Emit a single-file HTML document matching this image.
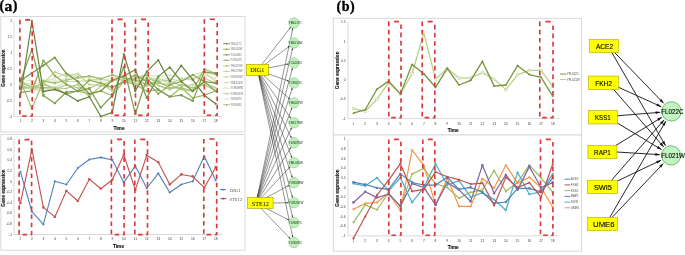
<!DOCTYPE html><html><head><meta charset="utf-8"><style>html,body{margin:0;padding:0;background:#fff;width:685px;height:255px;overflow:hidden;}svg{display:block;filter:blur(0.3px);}text{font-family:"Liberation Sans",sans-serif;}.sr{font-family:"Liberation Serif",serif;}</style></head><body>
<svg width="685" height="255" viewBox="0 0 685 255">
<rect width="685" height="255" fill="#fff"/>
<text class="sr" y="10.2" font-weight="bold" fill="#000" stroke="#000" stroke-width="0.35"><tspan x="-0.6" font-size="14">(</tspan><tspan x="4.5" y="10.9" font-size="15.5">a</tspan><tspan x="12.7" y="10.2" font-size="14">)</tspan></text>
<text class="sr" x="336.6" y="10.7" font-size="14" font-weight="bold" fill="#000" letter-spacing="0.45" stroke="#000" stroke-width="0.35">(b)</text>
<rect x="0.8" y="16.5" width="244.2" height="115.5" fill="#fff" stroke="#d9d9d9" stroke-width="1"/>
<line x1="14" y1="21.01" x2="14" y2="116.5" stroke="#bfbfbf" stroke-width="0.6"/>
<line x1="14" y1="116.5" x2="222.39" y2="116.5" stroke="#bfbfbf" stroke-width="0.6"/>
<text x="12.2" y="117.7" font-size="3.3" text-anchor="end" fill="#404040">-1</text>
<text x="12.2" y="101.79" font-size="3.3" text-anchor="end" fill="#404040">-0.5</text>
<text x="12.2" y="85.87" font-size="3.3" text-anchor="end" fill="#404040">0</text>
<text x="12.2" y="69.95" font-size="3.3" text-anchor="end" fill="#404040">0.5</text>
<text x="12.2" y="54.04" font-size="3.3" text-anchor="end" fill="#404040">1</text>
<text x="12.2" y="38.12" font-size="3.3" text-anchor="end" fill="#404040">1.5</text>
<text x="12.2" y="22.21" font-size="3.3" text-anchor="end" fill="#404040">2</text>
<text x="20.4" y="122" font-size="3.3" text-anchor="middle" fill="#404040">1</text>
<text x="31.89" y="122" font-size="3.3" text-anchor="middle" fill="#404040">2</text>
<text x="43.38" y="122" font-size="3.3" text-anchor="middle" fill="#404040">3</text>
<text x="54.87" y="122" font-size="3.3" text-anchor="middle" fill="#404040">4</text>
<text x="66.36" y="122" font-size="3.3" text-anchor="middle" fill="#404040">5</text>
<text x="77.85" y="122" font-size="3.3" text-anchor="middle" fill="#404040">6</text>
<text x="89.34" y="122" font-size="3.3" text-anchor="middle" fill="#404040">7</text>
<text x="100.83" y="122" font-size="3.3" text-anchor="middle" fill="#404040">8</text>
<text x="112.32" y="122" font-size="3.3" text-anchor="middle" fill="#404040">9</text>
<text x="123.81" y="122" font-size="3.3" text-anchor="middle" fill="#404040">10</text>
<text x="135.3" y="122" font-size="3.3" text-anchor="middle" fill="#404040">11</text>
<text x="146.79" y="122" font-size="3.3" text-anchor="middle" fill="#404040">12</text>
<text x="158.28" y="122" font-size="3.3" text-anchor="middle" fill="#404040">13</text>
<text x="169.77" y="122" font-size="3.3" text-anchor="middle" fill="#404040">14</text>
<text x="181.26" y="122" font-size="3.3" text-anchor="middle" fill="#404040">15</text>
<text x="192.75" y="122" font-size="3.3" text-anchor="middle" fill="#404040">16</text>
<text x="204.24" y="122" font-size="3.3" text-anchor="middle" fill="#404040">17</text>
<text x="215.73" y="122" font-size="3.3" text-anchor="middle" fill="#404040">18</text>
<text x="119" y="129.6" font-size="4.8" font-weight="bold" text-anchor="middle" fill="#111" stroke="#111" stroke-width="0.12">Time</text>
<text transform="translate(5.3,68) rotate(-90)" font-size="4.65" font-weight="bold" text-anchor="middle" fill="#111" stroke="#111" stroke-width="0.1">Gene expression</text>
<polyline points="20.4,87.85 31.89,87.85 43.38,87.85 54.87,87.85 66.36,93.9 77.85,91.04 89.34,93.9 100.83,91.04 112.32,95.49 123.81,81.49 135.3,84.67 146.79,91.04 158.28,89.76 169.77,96.77 181.26,87.85 192.75,98.04 204.24,95.17 215.73,91.04" fill="none" stroke="#98b464" stroke-width="1.2" stroke-linejoin="round"/>
<path d="M20.4,86.77L21.48,87.85L20.4,88.93L19.32,87.85Z" fill="#98b464" stroke="#98b464" stroke-width="0.4"/>
<path d="M31.89,86.77L32.97,87.85L31.89,88.93L30.81,87.85Z" fill="#98b464" stroke="#98b464" stroke-width="0.4"/>
<path d="M43.38,86.77L44.46,87.85L43.38,88.93L42.3,87.85Z" fill="#98b464" stroke="#98b464" stroke-width="0.4"/>
<path d="M54.87,86.77L55.95,87.85L54.87,88.93L53.79,87.85Z" fill="#98b464" stroke="#98b464" stroke-width="0.4"/>
<path d="M66.36,92.82L67.44,93.9L66.36,94.98L65.28,93.9Z" fill="#98b464" stroke="#98b464" stroke-width="0.4"/>
<path d="M77.85,89.96L78.93,91.04L77.85,92.12L76.77,91.04Z" fill="#98b464" stroke="#98b464" stroke-width="0.4"/>
<path d="M89.34,92.82L90.42,93.9L89.34,94.98L88.26,93.9Z" fill="#98b464" stroke="#98b464" stroke-width="0.4"/>
<path d="M100.83,89.96L101.91,91.04L100.83,92.12L99.75,91.04Z" fill="#98b464" stroke="#98b464" stroke-width="0.4"/>
<path d="M112.32,94.41L113.4,95.49L112.32,96.57L111.24,95.49Z" fill="#98b464" stroke="#98b464" stroke-width="0.4"/>
<path d="M123.81,80.41L124.89,81.49L123.81,82.57L122.73,81.49Z" fill="#98b464" stroke="#98b464" stroke-width="0.4"/>
<path d="M135.3,83.59L136.38,84.67L135.3,85.75L134.22,84.67Z" fill="#98b464" stroke="#98b464" stroke-width="0.4"/>
<path d="M146.79,89.96L147.87,91.04L146.79,92.12L145.71,91.04Z" fill="#98b464" stroke="#98b464" stroke-width="0.4"/>
<path d="M158.28,88.68L159.36,89.76L158.28,90.84L157.2,89.76Z" fill="#98b464" stroke="#98b464" stroke-width="0.4"/>
<path d="M169.77,95.69L170.85,96.77L169.77,97.85L168.69,96.77Z" fill="#98b464" stroke="#98b464" stroke-width="0.4"/>
<path d="M181.26,86.77L182.34,87.85L181.26,88.93L180.18,87.85Z" fill="#98b464" stroke="#98b464" stroke-width="0.4"/>
<path d="M192.75,96.96L193.83,98.04L192.75,99.12L191.67,98.04Z" fill="#98b464" stroke="#98b464" stroke-width="0.4"/>
<path d="M204.24,94.09L205.32,95.17L204.24,96.25L203.16,95.17Z" fill="#98b464" stroke="#98b464" stroke-width="0.4"/>
<path d="M215.73,89.96L216.81,91.04L215.73,92.12L214.65,91.04Z" fill="#98b464" stroke="#98b464" stroke-width="0.4"/>
<polyline points="20.4,78.3 31.89,81.49 43.38,79.9 54.87,81.49 66.36,78.3 77.85,75.12 89.34,78.3 100.83,81.49 112.32,78.3 123.81,75.12 135.3,76.71 146.79,75.12 158.28,76.71 169.77,75.12 181.26,78.3 192.75,78.3 204.24,75.12 215.73,78.3" fill="none" stroke="#dce8c6" stroke-width="1.2" stroke-linejoin="round"/>
<rect x="19.5" y="77.4" width="1.8" height="1.8" fill="#dce8c6" stroke="#dce8c6" stroke-width="0.4"/>
<rect x="30.99" y="80.59" width="1.8" height="1.8" fill="#dce8c6" stroke="#dce8c6" stroke-width="0.4"/>
<rect x="42.48" y="79" width="1.8" height="1.8" fill="#dce8c6" stroke="#dce8c6" stroke-width="0.4"/>
<rect x="53.97" y="80.59" width="1.8" height="1.8" fill="#dce8c6" stroke="#dce8c6" stroke-width="0.4"/>
<rect x="65.46" y="77.4" width="1.8" height="1.8" fill="#dce8c6" stroke="#dce8c6" stroke-width="0.4"/>
<rect x="76.95" y="74.22" width="1.8" height="1.8" fill="#dce8c6" stroke="#dce8c6" stroke-width="0.4"/>
<rect x="88.44" y="77.4" width="1.8" height="1.8" fill="#dce8c6" stroke="#dce8c6" stroke-width="0.4"/>
<rect x="99.93" y="80.59" width="1.8" height="1.8" fill="#dce8c6" stroke="#dce8c6" stroke-width="0.4"/>
<rect x="111.42" y="77.4" width="1.8" height="1.8" fill="#dce8c6" stroke="#dce8c6" stroke-width="0.4"/>
<rect x="122.91" y="74.22" width="1.8" height="1.8" fill="#dce8c6" stroke="#dce8c6" stroke-width="0.4"/>
<rect x="134.4" y="75.81" width="1.8" height="1.8" fill="#dce8c6" stroke="#dce8c6" stroke-width="0.4"/>
<rect x="145.89" y="74.22" width="1.8" height="1.8" fill="#dce8c6" stroke="#dce8c6" stroke-width="0.4"/>
<rect x="157.38" y="75.81" width="1.8" height="1.8" fill="#dce8c6" stroke="#dce8c6" stroke-width="0.4"/>
<rect x="168.87" y="74.22" width="1.8" height="1.8" fill="#dce8c6" stroke="#dce8c6" stroke-width="0.4"/>
<rect x="180.36" y="77.4" width="1.8" height="1.8" fill="#dce8c6" stroke="#dce8c6" stroke-width="0.4"/>
<rect x="191.85" y="77.4" width="1.8" height="1.8" fill="#dce8c6" stroke="#dce8c6" stroke-width="0.4"/>
<rect x="203.34" y="74.22" width="1.8" height="1.8" fill="#dce8c6" stroke="#dce8c6" stroke-width="0.4"/>
<rect x="214.83" y="77.4" width="1.8" height="1.8" fill="#dce8c6" stroke="#dce8c6" stroke-width="0.4"/>
<polyline points="20.4,84.67 31.89,89.44 43.38,83.08 54.87,89.44 66.36,84.67 77.85,87.85 89.34,88.49 100.83,83.08 112.32,91.04 123.81,79.9 135.3,83.08 146.79,86.26 158.28,83.08 169.77,84.67 181.26,89.44 192.75,91.04 204.24,83.08 215.73,87.85" fill="none" stroke="#b4cc88" stroke-width="1.2" stroke-linejoin="round"/>
<circle cx="20.4" cy="84.67" r="0.9" fill="#b4cc88" stroke="#b4cc88" stroke-width="0.4"/>
<circle cx="31.89" cy="89.44" r="0.9" fill="#b4cc88" stroke="#b4cc88" stroke-width="0.4"/>
<circle cx="43.38" cy="83.08" r="0.9" fill="#b4cc88" stroke="#b4cc88" stroke-width="0.4"/>
<circle cx="54.87" cy="89.44" r="0.9" fill="#b4cc88" stroke="#b4cc88" stroke-width="0.4"/>
<circle cx="66.36" cy="84.67" r="0.9" fill="#b4cc88" stroke="#b4cc88" stroke-width="0.4"/>
<circle cx="77.85" cy="87.85" r="0.9" fill="#b4cc88" stroke="#b4cc88" stroke-width="0.4"/>
<circle cx="89.34" cy="88.49" r="0.9" fill="#b4cc88" stroke="#b4cc88" stroke-width="0.4"/>
<circle cx="100.83" cy="83.08" r="0.9" fill="#b4cc88" stroke="#b4cc88" stroke-width="0.4"/>
<circle cx="112.32" cy="91.04" r="0.9" fill="#b4cc88" stroke="#b4cc88" stroke-width="0.4"/>
<circle cx="123.81" cy="79.9" r="0.9" fill="#b4cc88" stroke="#b4cc88" stroke-width="0.4"/>
<circle cx="135.3" cy="83.08" r="0.9" fill="#b4cc88" stroke="#b4cc88" stroke-width="0.4"/>
<circle cx="146.79" cy="86.26" r="0.9" fill="#b4cc88" stroke="#b4cc88" stroke-width="0.4"/>
<circle cx="158.28" cy="83.08" r="0.9" fill="#b4cc88" stroke="#b4cc88" stroke-width="0.4"/>
<circle cx="169.77" cy="84.67" r="0.9" fill="#b4cc88" stroke="#b4cc88" stroke-width="0.4"/>
<circle cx="181.26" cy="89.44" r="0.9" fill="#b4cc88" stroke="#b4cc88" stroke-width="0.4"/>
<circle cx="192.75" cy="91.04" r="0.9" fill="#b4cc88" stroke="#b4cc88" stroke-width="0.4"/>
<circle cx="204.24" cy="83.08" r="0.9" fill="#b4cc88" stroke="#b4cc88" stroke-width="0.4"/>
<circle cx="215.73" cy="87.85" r="0.9" fill="#b4cc88" stroke="#b4cc88" stroke-width="0.4"/>
<polyline points="20.4,81.49 31.89,84.67 43.38,81.49 54.87,78.3 66.36,73.53 77.85,78.3 89.34,76.08 100.83,78.3 112.32,74.8 123.81,81.49 135.3,78.3 146.79,76.71 158.28,79.9 169.77,78.3 181.26,81.49 192.75,75.12 204.24,71.94 215.73,75.12" fill="none" stroke="#d4e3b8" stroke-width="1.2" stroke-linejoin="round"/>
<path d="M20.4,80.41L21.48,81.49L20.4,82.57L19.32,81.49Z" fill="#d4e3b8" stroke="#d4e3b8" stroke-width="0.4"/>
<path d="M31.89,83.59L32.97,84.67L31.89,85.75L30.81,84.67Z" fill="#d4e3b8" stroke="#d4e3b8" stroke-width="0.4"/>
<path d="M43.38,80.41L44.46,81.49L43.38,82.57L42.3,81.49Z" fill="#d4e3b8" stroke="#d4e3b8" stroke-width="0.4"/>
<path d="M54.87,77.22L55.95,78.3L54.87,79.38L53.79,78.3Z" fill="#d4e3b8" stroke="#d4e3b8" stroke-width="0.4"/>
<path d="M66.36,72.45L67.44,73.53L66.36,74.61L65.28,73.53Z" fill="#d4e3b8" stroke="#d4e3b8" stroke-width="0.4"/>
<path d="M77.85,77.22L78.93,78.3L77.85,79.38L76.77,78.3Z" fill="#d4e3b8" stroke="#d4e3b8" stroke-width="0.4"/>
<path d="M89.34,75L90.42,76.08L89.34,77.16L88.26,76.08Z" fill="#d4e3b8" stroke="#d4e3b8" stroke-width="0.4"/>
<path d="M100.83,77.22L101.91,78.3L100.83,79.38L99.75,78.3Z" fill="#d4e3b8" stroke="#d4e3b8" stroke-width="0.4"/>
<path d="M112.32,73.72L113.4,74.8L112.32,75.88L111.24,74.8Z" fill="#d4e3b8" stroke="#d4e3b8" stroke-width="0.4"/>
<path d="M123.81,80.41L124.89,81.49L123.81,82.57L122.73,81.49Z" fill="#d4e3b8" stroke="#d4e3b8" stroke-width="0.4"/>
<path d="M135.3,77.22L136.38,78.3L135.3,79.38L134.22,78.3Z" fill="#d4e3b8" stroke="#d4e3b8" stroke-width="0.4"/>
<path d="M146.79,75.63L147.87,76.71L146.79,77.79L145.71,76.71Z" fill="#d4e3b8" stroke="#d4e3b8" stroke-width="0.4"/>
<path d="M158.28,78.82L159.36,79.9L158.28,80.98L157.2,79.9Z" fill="#d4e3b8" stroke="#d4e3b8" stroke-width="0.4"/>
<path d="M169.77,77.22L170.85,78.3L169.77,79.38L168.69,78.3Z" fill="#d4e3b8" stroke="#d4e3b8" stroke-width="0.4"/>
<path d="M181.26,80.41L182.34,81.49L181.26,82.57L180.18,81.49Z" fill="#d4e3b8" stroke="#d4e3b8" stroke-width="0.4"/>
<path d="M192.75,74.04L193.83,75.12L192.75,76.2L191.67,75.12Z" fill="#d4e3b8" stroke="#d4e3b8" stroke-width="0.4"/>
<path d="M204.24,70.86L205.32,71.94L204.24,73.02L203.16,71.94Z" fill="#d4e3b8" stroke="#d4e3b8" stroke-width="0.4"/>
<path d="M215.73,74.04L216.81,75.12L215.73,76.2L214.65,75.12Z" fill="#d4e3b8" stroke="#d4e3b8" stroke-width="0.4"/>
<polyline points="20.4,79.9 31.89,89.44 43.38,90.72 54.87,87.85 66.36,81.49 77.85,81.49 89.34,80.21 100.83,78.94 112.32,81.49 123.81,76.71 135.3,81.49 146.79,79.9 158.28,78.3 169.77,83.08 181.26,78.94 192.75,79.9 204.24,71.94 215.73,81.49" fill="none" stroke="#c8dba6" stroke-width="1.2" stroke-linejoin="round"/>
<rect x="19.5" y="79" width="1.8" height="1.8" fill="#c8dba6" stroke="#c8dba6" stroke-width="0.4"/>
<rect x="30.99" y="88.54" width="1.8" height="1.8" fill="#c8dba6" stroke="#c8dba6" stroke-width="0.4"/>
<rect x="42.48" y="89.82" width="1.8" height="1.8" fill="#c8dba6" stroke="#c8dba6" stroke-width="0.4"/>
<rect x="53.97" y="86.95" width="1.8" height="1.8" fill="#c8dba6" stroke="#c8dba6" stroke-width="0.4"/>
<rect x="65.46" y="80.59" width="1.8" height="1.8" fill="#c8dba6" stroke="#c8dba6" stroke-width="0.4"/>
<rect x="76.95" y="80.59" width="1.8" height="1.8" fill="#c8dba6" stroke="#c8dba6" stroke-width="0.4"/>
<rect x="88.44" y="79.31" width="1.8" height="1.8" fill="#c8dba6" stroke="#c8dba6" stroke-width="0.4"/>
<rect x="99.93" y="78.04" width="1.8" height="1.8" fill="#c8dba6" stroke="#c8dba6" stroke-width="0.4"/>
<rect x="111.42" y="80.59" width="1.8" height="1.8" fill="#c8dba6" stroke="#c8dba6" stroke-width="0.4"/>
<rect x="122.91" y="75.81" width="1.8" height="1.8" fill="#c8dba6" stroke="#c8dba6" stroke-width="0.4"/>
<rect x="134.4" y="80.59" width="1.8" height="1.8" fill="#c8dba6" stroke="#c8dba6" stroke-width="0.4"/>
<rect x="145.89" y="79" width="1.8" height="1.8" fill="#c8dba6" stroke="#c8dba6" stroke-width="0.4"/>
<rect x="157.38" y="77.4" width="1.8" height="1.8" fill="#c8dba6" stroke="#c8dba6" stroke-width="0.4"/>
<rect x="168.87" y="82.18" width="1.8" height="1.8" fill="#c8dba6" stroke="#c8dba6" stroke-width="0.4"/>
<rect x="180.36" y="78.04" width="1.8" height="1.8" fill="#c8dba6" stroke="#c8dba6" stroke-width="0.4"/>
<rect x="191.85" y="79" width="1.8" height="1.8" fill="#c8dba6" stroke="#c8dba6" stroke-width="0.4"/>
<rect x="203.34" y="71.04" width="1.8" height="1.8" fill="#c8dba6" stroke="#c8dba6" stroke-width="0.4"/>
<rect x="214.83" y="80.59" width="1.8" height="1.8" fill="#c8dba6" stroke="#c8dba6" stroke-width="0.4"/>
<polyline points="20.4,81.49 31.89,87.85 43.38,83.08 54.87,71.94 66.36,76.08 77.85,73.53 89.34,84.67 100.83,85.62 112.32,80.21 123.81,79.9 135.3,84.67 146.79,78.3 158.28,81.49 169.77,80.21 181.26,86.26 192.75,84.67 204.24,78.3 215.73,83.08" fill="none" stroke="#bcd293" stroke-width="1.2" stroke-linejoin="round"/>
<circle cx="20.4" cy="81.49" r="0.9" fill="#bcd293" stroke="#bcd293" stroke-width="0.4"/>
<circle cx="31.89" cy="87.85" r="0.9" fill="#bcd293" stroke="#bcd293" stroke-width="0.4"/>
<circle cx="43.38" cy="83.08" r="0.9" fill="#bcd293" stroke="#bcd293" stroke-width="0.4"/>
<circle cx="54.87" cy="71.94" r="0.9" fill="#bcd293" stroke="#bcd293" stroke-width="0.4"/>
<circle cx="66.36" cy="76.08" r="0.9" fill="#bcd293" stroke="#bcd293" stroke-width="0.4"/>
<circle cx="77.85" cy="73.53" r="0.9" fill="#bcd293" stroke="#bcd293" stroke-width="0.4"/>
<circle cx="89.34" cy="84.67" r="0.9" fill="#bcd293" stroke="#bcd293" stroke-width="0.4"/>
<circle cx="100.83" cy="85.62" r="0.9" fill="#bcd293" stroke="#bcd293" stroke-width="0.4"/>
<circle cx="112.32" cy="80.21" r="0.9" fill="#bcd293" stroke="#bcd293" stroke-width="0.4"/>
<circle cx="123.81" cy="79.9" r="0.9" fill="#bcd293" stroke="#bcd293" stroke-width="0.4"/>
<circle cx="135.3" cy="84.67" r="0.9" fill="#bcd293" stroke="#bcd293" stroke-width="0.4"/>
<circle cx="146.79" cy="78.3" r="0.9" fill="#bcd293" stroke="#bcd293" stroke-width="0.4"/>
<circle cx="158.28" cy="81.49" r="0.9" fill="#bcd293" stroke="#bcd293" stroke-width="0.4"/>
<circle cx="169.77" cy="80.21" r="0.9" fill="#bcd293" stroke="#bcd293" stroke-width="0.4"/>
<circle cx="181.26" cy="86.26" r="0.9" fill="#bcd293" stroke="#bcd293" stroke-width="0.4"/>
<circle cx="192.75" cy="84.67" r="0.9" fill="#bcd293" stroke="#bcd293" stroke-width="0.4"/>
<circle cx="204.24" cy="78.3" r="0.9" fill="#bcd293" stroke="#bcd293" stroke-width="0.4"/>
<circle cx="215.73" cy="83.08" r="0.9" fill="#bcd293" stroke="#bcd293" stroke-width="0.4"/>
<polyline points="20.4,83.08 31.89,86.58 43.38,84.67 54.87,87.85 66.36,88.49 77.85,84.35 89.34,96.77 100.83,85.62 112.32,87.22 123.81,82.12 135.3,78.3 146.79,75.12 158.28,85.62 169.77,89.44 181.26,84.67 192.75,87.85 204.24,84.67 215.73,91.04" fill="none" stroke="#afc87e" stroke-width="1.2" stroke-linejoin="round"/>
<path d="M20.4,82L21.48,83.08L20.4,84.16L19.32,83.08Z" fill="#afc87e" stroke="#afc87e" stroke-width="0.4"/>
<path d="M31.89,85.5L32.97,86.58L31.89,87.66L30.81,86.58Z" fill="#afc87e" stroke="#afc87e" stroke-width="0.4"/>
<path d="M43.38,83.59L44.46,84.67L43.38,85.75L42.3,84.67Z" fill="#afc87e" stroke="#afc87e" stroke-width="0.4"/>
<path d="M54.87,86.77L55.95,87.85L54.87,88.93L53.79,87.85Z" fill="#afc87e" stroke="#afc87e" stroke-width="0.4"/>
<path d="M66.36,87.41L67.44,88.49L66.36,89.57L65.28,88.49Z" fill="#afc87e" stroke="#afc87e" stroke-width="0.4"/>
<path d="M77.85,83.27L78.93,84.35L77.85,85.43L76.77,84.35Z" fill="#afc87e" stroke="#afc87e" stroke-width="0.4"/>
<path d="M89.34,95.69L90.42,96.77L89.34,97.85L88.26,96.77Z" fill="#afc87e" stroke="#afc87e" stroke-width="0.4"/>
<path d="M100.83,84.54L101.91,85.62L100.83,86.7L99.75,85.62Z" fill="#afc87e" stroke="#afc87e" stroke-width="0.4"/>
<path d="M112.32,86.14L113.4,87.22L112.32,88.3L111.24,87.22Z" fill="#afc87e" stroke="#afc87e" stroke-width="0.4"/>
<path d="M123.81,81.04L124.89,82.12L123.81,83.2L122.73,82.12Z" fill="#afc87e" stroke="#afc87e" stroke-width="0.4"/>
<path d="M135.3,77.22L136.38,78.3L135.3,79.38L134.22,78.3Z" fill="#afc87e" stroke="#afc87e" stroke-width="0.4"/>
<path d="M146.79,74.04L147.87,75.12L146.79,76.2L145.71,75.12Z" fill="#afc87e" stroke="#afc87e" stroke-width="0.4"/>
<path d="M158.28,84.54L159.36,85.62L158.28,86.7L157.2,85.62Z" fill="#afc87e" stroke="#afc87e" stroke-width="0.4"/>
<path d="M169.77,88.36L170.85,89.44L169.77,90.52L168.69,89.44Z" fill="#afc87e" stroke="#afc87e" stroke-width="0.4"/>
<path d="M181.26,83.59L182.34,84.67L181.26,85.75L180.18,84.67Z" fill="#afc87e" stroke="#afc87e" stroke-width="0.4"/>
<path d="M192.75,86.77L193.83,87.85L192.75,88.93L191.67,87.85Z" fill="#afc87e" stroke="#afc87e" stroke-width="0.4"/>
<path d="M204.24,83.59L205.32,84.67L204.24,85.75L203.16,84.67Z" fill="#afc87e" stroke="#afc87e" stroke-width="0.4"/>
<path d="M215.73,89.96L216.81,91.04L215.73,92.12L214.65,91.04Z" fill="#afc87e" stroke="#afc87e" stroke-width="0.4"/>
<polyline points="20.4,81.17 31.89,108.54 43.38,81.17 54.87,83.08 66.36,80.21 77.85,77.35 89.34,76.08 100.83,78.94 112.32,74.8 123.81,78.3 135.3,79.9 146.79,84.67 158.28,81.49 169.77,87.85 181.26,87.85 192.75,91.04 204.24,69.07 215.73,73.53" fill="none" stroke="#a2bd6c" stroke-width="1.2" stroke-linejoin="round"/>
<rect x="19.5" y="80.27" width="1.8" height="1.8" fill="#a2bd6c" stroke="#a2bd6c" stroke-width="0.4"/>
<rect x="30.99" y="107.64" width="1.8" height="1.8" fill="#a2bd6c" stroke="#a2bd6c" stroke-width="0.4"/>
<rect x="42.48" y="80.27" width="1.8" height="1.8" fill="#a2bd6c" stroke="#a2bd6c" stroke-width="0.4"/>
<rect x="53.97" y="82.18" width="1.8" height="1.8" fill="#a2bd6c" stroke="#a2bd6c" stroke-width="0.4"/>
<rect x="65.46" y="79.31" width="1.8" height="1.8" fill="#a2bd6c" stroke="#a2bd6c" stroke-width="0.4"/>
<rect x="76.95" y="76.45" width="1.8" height="1.8" fill="#a2bd6c" stroke="#a2bd6c" stroke-width="0.4"/>
<rect x="88.44" y="75.18" width="1.8" height="1.8" fill="#a2bd6c" stroke="#a2bd6c" stroke-width="0.4"/>
<rect x="99.93" y="78.04" width="1.8" height="1.8" fill="#a2bd6c" stroke="#a2bd6c" stroke-width="0.4"/>
<rect x="111.42" y="73.9" width="1.8" height="1.8" fill="#a2bd6c" stroke="#a2bd6c" stroke-width="0.4"/>
<rect x="122.91" y="77.4" width="1.8" height="1.8" fill="#a2bd6c" stroke="#a2bd6c" stroke-width="0.4"/>
<rect x="134.4" y="79" width="1.8" height="1.8" fill="#a2bd6c" stroke="#a2bd6c" stroke-width="0.4"/>
<rect x="145.89" y="83.77" width="1.8" height="1.8" fill="#a2bd6c" stroke="#a2bd6c" stroke-width="0.4"/>
<rect x="157.38" y="80.59" width="1.8" height="1.8" fill="#a2bd6c" stroke="#a2bd6c" stroke-width="0.4"/>
<rect x="168.87" y="86.95" width="1.8" height="1.8" fill="#a2bd6c" stroke="#a2bd6c" stroke-width="0.4"/>
<rect x="180.36" y="86.95" width="1.8" height="1.8" fill="#a2bd6c" stroke="#a2bd6c" stroke-width="0.4"/>
<rect x="191.85" y="90.14" width="1.8" height="1.8" fill="#a2bd6c" stroke="#a2bd6c" stroke-width="0.4"/>
<rect x="203.34" y="68.17" width="1.8" height="1.8" fill="#a2bd6c" stroke="#a2bd6c" stroke-width="0.4"/>
<rect x="214.83" y="72.63" width="1.8" height="1.8" fill="#a2bd6c" stroke="#a2bd6c" stroke-width="0.4"/>
<polyline points="20.4,92.63 31.89,90.72 43.38,60.48 54.87,75.76 66.36,84.35 77.85,91.04 89.34,80.21 100.83,83.08 112.32,87.22 123.81,81.49 135.3,75.12 146.79,81.49 158.28,93.9 169.77,84.67 181.26,81.49 192.75,74.8 204.24,81.49 215.73,91.04" fill="none" stroke="#8aa652" stroke-width="1.2" stroke-linejoin="round"/>
<circle cx="20.4" cy="92.63" r="0.9" fill="#8aa652" stroke="#8aa652" stroke-width="0.4"/>
<circle cx="31.89" cy="90.72" r="0.9" fill="#8aa652" stroke="#8aa652" stroke-width="0.4"/>
<circle cx="43.38" cy="60.48" r="0.9" fill="#8aa652" stroke="#8aa652" stroke-width="0.4"/>
<circle cx="54.87" cy="75.76" r="0.9" fill="#8aa652" stroke="#8aa652" stroke-width="0.4"/>
<circle cx="66.36" cy="84.35" r="0.9" fill="#8aa652" stroke="#8aa652" stroke-width="0.4"/>
<circle cx="77.85" cy="91.04" r="0.9" fill="#8aa652" stroke="#8aa652" stroke-width="0.4"/>
<circle cx="89.34" cy="80.21" r="0.9" fill="#8aa652" stroke="#8aa652" stroke-width="0.4"/>
<circle cx="100.83" cy="83.08" r="0.9" fill="#8aa652" stroke="#8aa652" stroke-width="0.4"/>
<circle cx="112.32" cy="87.22" r="0.9" fill="#8aa652" stroke="#8aa652" stroke-width="0.4"/>
<circle cx="123.81" cy="81.49" r="0.9" fill="#8aa652" stroke="#8aa652" stroke-width="0.4"/>
<circle cx="135.3" cy="75.12" r="0.9" fill="#8aa652" stroke="#8aa652" stroke-width="0.4"/>
<circle cx="146.79" cy="81.49" r="0.9" fill="#8aa652" stroke="#8aa652" stroke-width="0.4"/>
<circle cx="158.28" cy="93.9" r="0.9" fill="#8aa652" stroke="#8aa652" stroke-width="0.4"/>
<circle cx="169.77" cy="84.67" r="0.9" fill="#8aa652" stroke="#8aa652" stroke-width="0.4"/>
<circle cx="181.26" cy="81.49" r="0.9" fill="#8aa652" stroke="#8aa652" stroke-width="0.4"/>
<circle cx="192.75" cy="74.8" r="0.9" fill="#8aa652" stroke="#8aa652" stroke-width="0.4"/>
<circle cx="204.24" cy="81.49" r="0.9" fill="#8aa652" stroke="#8aa652" stroke-width="0.4"/>
<circle cx="215.73" cy="91.04" r="0.9" fill="#8aa652" stroke="#8aa652" stroke-width="0.4"/>
<polyline points="20.4,80.85 31.89,72.89 43.38,65.57 54.87,57.61 66.36,73.53 77.85,81.49 89.34,93.9 100.83,91.04 112.32,80.21 123.81,76.08 135.3,69.71 146.79,98.04 158.28,76.39 169.77,67.16 181.26,81.49 192.75,91.04 204.24,81.49 215.73,83.08" fill="none" stroke="#72903e" stroke-width="1.2" stroke-linejoin="round"/>
<path d="M20.4,79.77L21.48,80.85L20.4,81.93L19.32,80.85Z" fill="#72903e" stroke="#72903e" stroke-width="0.4"/>
<path d="M31.89,71.81L32.97,72.89L31.89,73.97L30.81,72.89Z" fill="#72903e" stroke="#72903e" stroke-width="0.4"/>
<path d="M43.38,64.49L44.46,65.57L43.38,66.65L42.3,65.57Z" fill="#72903e" stroke="#72903e" stroke-width="0.4"/>
<path d="M54.87,56.53L55.95,57.61L54.87,58.69L53.79,57.61Z" fill="#72903e" stroke="#72903e" stroke-width="0.4"/>
<path d="M66.36,72.45L67.44,73.53L66.36,74.61L65.28,73.53Z" fill="#72903e" stroke="#72903e" stroke-width="0.4"/>
<path d="M77.85,80.41L78.93,81.49L77.85,82.57L76.77,81.49Z" fill="#72903e" stroke="#72903e" stroke-width="0.4"/>
<path d="M89.34,92.82L90.42,93.9L89.34,94.98L88.26,93.9Z" fill="#72903e" stroke="#72903e" stroke-width="0.4"/>
<path d="M100.83,89.96L101.91,91.04L100.83,92.12L99.75,91.04Z" fill="#72903e" stroke="#72903e" stroke-width="0.4"/>
<path d="M112.32,79.13L113.4,80.21L112.32,81.29L111.24,80.21Z" fill="#72903e" stroke="#72903e" stroke-width="0.4"/>
<path d="M123.81,75L124.89,76.08L123.81,77.16L122.73,76.08Z" fill="#72903e" stroke="#72903e" stroke-width="0.4"/>
<path d="M135.3,68.63L136.38,69.71L135.3,70.79L134.22,69.71Z" fill="#72903e" stroke="#72903e" stroke-width="0.4"/>
<path d="M146.79,96.96L147.87,98.04L146.79,99.12L145.71,98.04Z" fill="#72903e" stroke="#72903e" stroke-width="0.4"/>
<path d="M158.28,75.31L159.36,76.39L158.28,77.47L157.2,76.39Z" fill="#72903e" stroke="#72903e" stroke-width="0.4"/>
<path d="M169.77,66.08L170.85,67.16L169.77,68.24L168.69,67.16Z" fill="#72903e" stroke="#72903e" stroke-width="0.4"/>
<path d="M181.26,80.41L182.34,81.49L181.26,82.57L180.18,81.49Z" fill="#72903e" stroke="#72903e" stroke-width="0.4"/>
<path d="M192.75,89.96L193.83,91.04L192.75,92.12L191.67,91.04Z" fill="#72903e" stroke="#72903e" stroke-width="0.4"/>
<path d="M204.24,80.41L205.32,81.49L204.24,82.57L203.16,81.49Z" fill="#72903e" stroke="#72903e" stroke-width="0.4"/>
<path d="M215.73,82L216.81,83.08L215.73,84.16L214.65,83.08Z" fill="#72903e" stroke="#72903e" stroke-width="0.4"/>
<polyline points="20.4,81.17 31.89,49.66 43.38,95.49 54.87,103.13 66.36,91.99 77.85,91.04 89.34,88.49 100.83,107.59 112.32,95.49 123.81,67.16 135.3,113.95 146.79,78.3 158.28,89.76 169.77,96.77 181.26,95.17 192.75,100.9 204.24,71.94 215.73,73.53" fill="none" stroke="#7f9a4a" stroke-width="1.2" stroke-linejoin="round"/>
<rect x="19.5" y="80.27" width="1.8" height="1.8" fill="#7f9a4a" stroke="#7f9a4a" stroke-width="0.4"/>
<rect x="30.99" y="48.76" width="1.8" height="1.8" fill="#7f9a4a" stroke="#7f9a4a" stroke-width="0.4"/>
<rect x="42.48" y="94.59" width="1.8" height="1.8" fill="#7f9a4a" stroke="#7f9a4a" stroke-width="0.4"/>
<rect x="53.97" y="102.23" width="1.8" height="1.8" fill="#7f9a4a" stroke="#7f9a4a" stroke-width="0.4"/>
<rect x="65.46" y="91.09" width="1.8" height="1.8" fill="#7f9a4a" stroke="#7f9a4a" stroke-width="0.4"/>
<rect x="76.95" y="90.14" width="1.8" height="1.8" fill="#7f9a4a" stroke="#7f9a4a" stroke-width="0.4"/>
<rect x="88.44" y="87.59" width="1.8" height="1.8" fill="#7f9a4a" stroke="#7f9a4a" stroke-width="0.4"/>
<rect x="99.93" y="106.69" width="1.8" height="1.8" fill="#7f9a4a" stroke="#7f9a4a" stroke-width="0.4"/>
<rect x="111.42" y="94.59" width="1.8" height="1.8" fill="#7f9a4a" stroke="#7f9a4a" stroke-width="0.4"/>
<rect x="122.91" y="66.26" width="1.8" height="1.8" fill="#7f9a4a" stroke="#7f9a4a" stroke-width="0.4"/>
<rect x="134.4" y="113.05" width="1.8" height="1.8" fill="#7f9a4a" stroke="#7f9a4a" stroke-width="0.4"/>
<rect x="145.89" y="77.4" width="1.8" height="1.8" fill="#7f9a4a" stroke="#7f9a4a" stroke-width="0.4"/>
<rect x="157.38" y="88.86" width="1.8" height="1.8" fill="#7f9a4a" stroke="#7f9a4a" stroke-width="0.4"/>
<rect x="168.87" y="95.87" width="1.8" height="1.8" fill="#7f9a4a" stroke="#7f9a4a" stroke-width="0.4"/>
<rect x="180.36" y="94.27" width="1.8" height="1.8" fill="#7f9a4a" stroke="#7f9a4a" stroke-width="0.4"/>
<rect x="191.85" y="100" width="1.8" height="1.8" fill="#7f9a4a" stroke="#7f9a4a" stroke-width="0.4"/>
<rect x="203.34" y="71.04" width="1.8" height="1.8" fill="#7f9a4a" stroke="#7f9a4a" stroke-width="0.4"/>
<rect x="214.83" y="72.63" width="1.8" height="1.8" fill="#7f9a4a" stroke="#7f9a4a" stroke-width="0.4"/>
<polyline points="20.4,96.13 31.89,21.01 43.38,91.67 54.87,89.44 66.36,93.9 77.85,100.9 89.34,96.77 100.83,116.5 112.32,112.36 123.81,54.11 135.3,91.04 146.79,71.62 158.28,60.16 169.77,81.49 181.26,65.57 192.75,79.58 204.24,95.17 215.73,103.77" fill="none" stroke="#66803a" stroke-width="1.2" stroke-linejoin="round"/>
<circle cx="20.4" cy="96.13" r="0.9" fill="#66803a" stroke="#66803a" stroke-width="0.4"/>
<circle cx="31.89" cy="21.01" r="0.9" fill="#66803a" stroke="#66803a" stroke-width="0.4"/>
<circle cx="43.38" cy="91.67" r="0.9" fill="#66803a" stroke="#66803a" stroke-width="0.4"/>
<circle cx="54.87" cy="89.44" r="0.9" fill="#66803a" stroke="#66803a" stroke-width="0.4"/>
<circle cx="66.36" cy="93.9" r="0.9" fill="#66803a" stroke="#66803a" stroke-width="0.4"/>
<circle cx="77.85" cy="100.9" r="0.9" fill="#66803a" stroke="#66803a" stroke-width="0.4"/>
<circle cx="89.34" cy="96.77" r="0.9" fill="#66803a" stroke="#66803a" stroke-width="0.4"/>
<circle cx="100.83" cy="116.5" r="0.9" fill="#66803a" stroke="#66803a" stroke-width="0.4"/>
<circle cx="112.32" cy="112.36" r="0.9" fill="#66803a" stroke="#66803a" stroke-width="0.4"/>
<circle cx="123.81" cy="54.11" r="0.9" fill="#66803a" stroke="#66803a" stroke-width="0.4"/>
<circle cx="135.3" cy="91.04" r="0.9" fill="#66803a" stroke="#66803a" stroke-width="0.4"/>
<circle cx="146.79" cy="71.62" r="0.9" fill="#66803a" stroke="#66803a" stroke-width="0.4"/>
<circle cx="158.28" cy="60.16" r="0.9" fill="#66803a" stroke="#66803a" stroke-width="0.4"/>
<circle cx="169.77" cy="81.49" r="0.9" fill="#66803a" stroke="#66803a" stroke-width="0.4"/>
<circle cx="181.26" cy="65.57" r="0.9" fill="#66803a" stroke="#66803a" stroke-width="0.4"/>
<circle cx="192.75" cy="79.58" r="0.9" fill="#66803a" stroke="#66803a" stroke-width="0.4"/>
<circle cx="204.24" cy="95.17" r="0.9" fill="#66803a" stroke="#66803a" stroke-width="0.4"/>
<circle cx="215.73" cy="103.77" r="0.9" fill="#66803a" stroke="#66803a" stroke-width="0.4"/>
<line x1="223.2" y1="43.7" x2="229.9" y2="43.7" stroke="#66803a" stroke-width="0.8"/>
<rect x="225.9" y="43.05" width="1.3" height="1.3" fill="#66803a"/>
<text x="230.4" y="44.7" font-size="2.65" fill="#6a6a6a">YBL017C</text>
<line x1="223.2" y1="49.25" x2="229.9" y2="49.25" stroke="#7f9a4a" stroke-width="0.8"/>
<rect x="225.9" y="48.6" width="1.3" height="1.3" fill="#7f9a4a"/>
<text x="230.4" y="50.25" font-size="2.65" fill="#6a6a6a">YBL014W</text>
<line x1="223.2" y1="54.8" x2="229.9" y2="54.8" stroke="#72903e" stroke-width="0.8"/>
<rect x="225.9" y="54.15" width="1.3" height="1.3" fill="#72903e"/>
<text x="230.4" y="55.8" font-size="2.65" fill="#6a6a6a">YCL008C</text>
<line x1="223.2" y1="60.35" x2="229.9" y2="60.35" stroke="#8aa652" stroke-width="0.8"/>
<rect x="225.9" y="59.7" width="1.3" height="1.3" fill="#8aa652"/>
<text x="230.4" y="61.35" font-size="2.65" fill="#6a6a6a">YCR017C</text>
<line x1="223.2" y1="65.9" x2="229.9" y2="65.9" stroke="#a2bd6c" stroke-width="0.8"/>
<rect x="225.9" y="65.25" width="1.3" height="1.3" fill="#a2bd6c"/>
<text x="230.4" y="66.9" font-size="2.65" fill="#6a6a6a">YHL067W</text>
<line x1="223.2" y1="71.45" x2="229.9" y2="71.45" stroke="#afc87e" stroke-width="0.8"/>
<rect x="225.9" y="70.8" width="1.3" height="1.3" fill="#afc87e"/>
<text x="230.4" y="72.45" font-size="2.65" fill="#6a6a6a">YHL279W</text>
<line x1="223.2" y1="77" x2="229.9" y2="77" stroke="#bcd293" stroke-width="0.8"/>
<rect x="225.9" y="76.35" width="1.3" height="1.3" fill="#bcd293"/>
<text x="230.4" y="78" font-size="2.65" fill="#6a6a6a">YLR095W</text>
<line x1="223.2" y1="82.55" x2="229.9" y2="82.55" stroke="#c8dba6" stroke-width="0.8"/>
<rect x="225.9" y="81.9" width="1.3" height="1.3" fill="#c8dba6"/>
<text x="230.4" y="83.55" font-size="2.65" fill="#6a6a6a">YML055W</text>
<line x1="223.2" y1="88.1" x2="229.9" y2="88.1" stroke="#d4e3b8" stroke-width="0.8"/>
<rect x="225.9" y="87.45" width="1.3" height="1.3" fill="#d4e3b8"/>
<text x="230.4" y="89.1" font-size="2.65" fill="#6a6a6a">YOR088W</text>
<line x1="223.2" y1="93.65" x2="229.9" y2="93.65" stroke="#b4cc88" stroke-width="0.8"/>
<rect x="225.9" y="93" width="1.3" height="1.3" fill="#b4cc88"/>
<text x="230.4" y="94.65" font-size="2.65" fill="#6a6a6a">YOR261W</text>
<line x1="223.2" y1="99.2" x2="229.9" y2="99.2" stroke="#dce8c6" stroke-width="0.8"/>
<rect x="225.9" y="98.55" width="1.3" height="1.3" fill="#dce8c6"/>
<text x="230.4" y="100.2" font-size="2.65" fill="#6a6a6a">YLR087C</text>
<line x1="223.2" y1="104.75" x2="229.9" y2="104.75" stroke="#98b464" stroke-width="0.8"/>
<rect x="225.9" y="104.1" width="1.3" height="1.3" fill="#98b464"/>
<text x="230.4" y="105.75" font-size="2.65" fill="#6a6a6a">YLR069C</text>
<path d="M19.9,19.8V116H32.2V19.8" fill="none" stroke="#d63a3a" stroke-width="1.65" stroke-dasharray="4.6,3.6" stroke-linejoin="round"/>
<path d="M32.2,19.8H19.9" fill="none" stroke="#d63a3a" stroke-width="1.65" stroke-dasharray="0,2.09,4.92,100"/>
<path d="M112,19.4V115.3H124.8V19.4" fill="none" stroke="#d63a3a" stroke-width="1.65" stroke-dasharray="4.6,3.6" stroke-linejoin="round"/>
<path d="M124.8,19.4H112" fill="none" stroke="#d63a3a" stroke-width="1.65" stroke-dasharray="0,2.18,5.12,100"/>
<path d="M135.5,19.4V115.3H148.2V19.4" fill="none" stroke="#d63a3a" stroke-width="1.65" stroke-dasharray="4.6,3.6" stroke-linejoin="round"/>
<path d="M148.2,19.4H135.5" fill="none" stroke="#d63a3a" stroke-width="1.65" stroke-dasharray="0,2.16,5.08,100"/>
<path d="M204.3,19.2V115.2H217.2V19.2" fill="none" stroke="#d63a3a" stroke-width="1.65" stroke-dasharray="4.6,3.6" stroke-linejoin="round"/>
<path d="M217.2,19.2H204.3" fill="none" stroke="#d63a3a" stroke-width="1.65" stroke-dasharray="0,2.19,5.16,100"/>
<rect x="0.8" y="134.6" width="244.2" height="115.6" fill="#fff" stroke="#d9d9d9" stroke-width="1"/>
<line x1="14" y1="138.79" x2="14" y2="234.5" stroke="#bfbfbf" stroke-width="0.6"/>
<line x1="14" y1="234.5" x2="222.39" y2="234.5" stroke="#bfbfbf" stroke-width="0.6"/>
<text x="12.2" y="235.7" font-size="3.3" text-anchor="end" fill="#404040">-1</text>
<text x="12.2" y="225.07" font-size="3.3" text-anchor="end" fill="#404040">-0.8</text>
<text x="12.2" y="214.43" font-size="3.3" text-anchor="end" fill="#404040">-0.6</text>
<text x="12.2" y="203.8" font-size="3.3" text-anchor="end" fill="#404040">-0.4</text>
<text x="12.2" y="193.16" font-size="3.3" text-anchor="end" fill="#404040">-0.2</text>
<text x="12.2" y="182.53" font-size="3.3" text-anchor="end" fill="#404040">0</text>
<text x="12.2" y="171.9" font-size="3.3" text-anchor="end" fill="#404040">0.2</text>
<text x="12.2" y="161.26" font-size="3.3" text-anchor="end" fill="#404040">0.4</text>
<text x="12.2" y="150.63" font-size="3.3" text-anchor="end" fill="#404040">0.6</text>
<text x="12.2" y="139.99" font-size="3.3" text-anchor="end" fill="#404040">0.8</text>
<text x="20.4" y="240.3" font-size="3.3" text-anchor="middle" fill="#404040">1</text>
<text x="31.89" y="240.3" font-size="3.3" text-anchor="middle" fill="#404040">2</text>
<text x="43.38" y="240.3" font-size="3.3" text-anchor="middle" fill="#404040">3</text>
<text x="54.87" y="240.3" font-size="3.3" text-anchor="middle" fill="#404040">4</text>
<text x="66.36" y="240.3" font-size="3.3" text-anchor="middle" fill="#404040">5</text>
<text x="77.85" y="240.3" font-size="3.3" text-anchor="middle" fill="#404040">6</text>
<text x="89.34" y="240.3" font-size="3.3" text-anchor="middle" fill="#404040">7</text>
<text x="100.83" y="240.3" font-size="3.3" text-anchor="middle" fill="#404040">8</text>
<text x="112.32" y="240.3" font-size="3.3" text-anchor="middle" fill="#404040">9</text>
<text x="123.81" y="240.3" font-size="3.3" text-anchor="middle" fill="#404040">10</text>
<text x="135.3" y="240.3" font-size="3.3" text-anchor="middle" fill="#404040">11</text>
<text x="146.79" y="240.3" font-size="3.3" text-anchor="middle" fill="#404040">12</text>
<text x="158.28" y="240.3" font-size="3.3" text-anchor="middle" fill="#404040">13</text>
<text x="169.77" y="240.3" font-size="3.3" text-anchor="middle" fill="#404040">14</text>
<text x="181.26" y="240.3" font-size="3.3" text-anchor="middle" fill="#404040">15</text>
<text x="192.75" y="240.3" font-size="3.3" text-anchor="middle" fill="#404040">16</text>
<text x="204.24" y="240.3" font-size="3.3" text-anchor="middle" fill="#404040">17</text>
<text x="215.73" y="240.3" font-size="3.3" text-anchor="middle" fill="#404040">18</text>
<text x="118.5" y="248" font-size="4.8" font-weight="bold" text-anchor="middle" fill="#111" stroke="#111" stroke-width="0.12">Time</text>
<text transform="translate(5.3,188) rotate(-90)" font-size="4.65" font-weight="bold" text-anchor="middle" fill="#111" stroke="#111" stroke-width="0.1">Gene expression</text>
<polyline points="20.4,171.76 31.89,211.64 43.38,224.4 54.87,181.33 66.36,184.52 77.85,168.04 89.34,159.53 100.83,157.4 112.32,160.06 123.81,182.39 135.3,165.91 146.79,188.24 158.28,173.35 169.77,192.5 181.26,184.52 192.75,181.33 204.24,156.34 215.73,180.27" fill="none" stroke="#4f81bd" stroke-width="1.1" stroke-linejoin="round"/>
<path d="M20.4,170.68L21.48,171.76L20.4,172.84L19.32,171.76Z" fill="#4f81bd" stroke="#4f81bd" stroke-width="0.4"/>
<path d="M31.89,210.56L32.97,211.64L31.89,212.72L30.81,211.64Z" fill="#4f81bd" stroke="#4f81bd" stroke-width="0.4"/>
<path d="M43.38,223.32L44.46,224.4L43.38,225.48L42.3,224.4Z" fill="#4f81bd" stroke="#4f81bd" stroke-width="0.4"/>
<path d="M54.87,180.25L55.95,181.33L54.87,182.41L53.79,181.33Z" fill="#4f81bd" stroke="#4f81bd" stroke-width="0.4"/>
<path d="M66.36,183.44L67.44,184.52L66.36,185.6L65.28,184.52Z" fill="#4f81bd" stroke="#4f81bd" stroke-width="0.4"/>
<path d="M77.85,166.96L78.93,168.04L77.85,169.12L76.77,168.04Z" fill="#4f81bd" stroke="#4f81bd" stroke-width="0.4"/>
<path d="M89.34,158.45L90.42,159.53L89.34,160.61L88.26,159.53Z" fill="#4f81bd" stroke="#4f81bd" stroke-width="0.4"/>
<path d="M100.83,156.32L101.91,157.4L100.83,158.48L99.75,157.4Z" fill="#4f81bd" stroke="#4f81bd" stroke-width="0.4"/>
<path d="M112.32,158.98L113.4,160.06L112.32,161.14L111.24,160.06Z" fill="#4f81bd" stroke="#4f81bd" stroke-width="0.4"/>
<path d="M123.81,181.31L124.89,182.39L123.81,183.47L122.73,182.39Z" fill="#4f81bd" stroke="#4f81bd" stroke-width="0.4"/>
<path d="M135.3,164.83L136.38,165.91L135.3,166.99L134.22,165.91Z" fill="#4f81bd" stroke="#4f81bd" stroke-width="0.4"/>
<path d="M146.79,187.16L147.87,188.24L146.79,189.32L145.71,188.24Z" fill="#4f81bd" stroke="#4f81bd" stroke-width="0.4"/>
<path d="M158.28,172.27L159.36,173.35L158.28,174.43L157.2,173.35Z" fill="#4f81bd" stroke="#4f81bd" stroke-width="0.4"/>
<path d="M169.77,191.42L170.85,192.5L169.77,193.58L168.69,192.5Z" fill="#4f81bd" stroke="#4f81bd" stroke-width="0.4"/>
<path d="M181.26,183.44L182.34,184.52L181.26,185.6L180.18,184.52Z" fill="#4f81bd" stroke="#4f81bd" stroke-width="0.4"/>
<path d="M192.75,180.25L193.83,181.33L192.75,182.41L191.67,181.33Z" fill="#4f81bd" stroke="#4f81bd" stroke-width="0.4"/>
<path d="M204.24,155.26L205.32,156.34L204.24,157.42L203.16,156.34Z" fill="#4f81bd" stroke="#4f81bd" stroke-width="0.4"/>
<path d="M215.73,179.19L216.81,180.27L215.73,181.35L214.65,180.27Z" fill="#4f81bd" stroke="#4f81bd" stroke-width="0.4"/>
<polyline points="20.4,203.13 31.89,149.43 43.38,207.38 54.87,216.95 66.36,190.9 77.85,201 89.34,179.2 100.83,188.77 112.32,179.73 123.81,154.75 135.3,189.84 146.79,155.28 158.28,162.19 169.77,184.52 181.26,174.42 192.75,176.54 204.24,187.71 215.73,167.51" fill="none" stroke="#c0504d" stroke-width="1.1" stroke-linejoin="round"/>
<rect x="19.5" y="202.23" width="1.8" height="1.8" fill="#c0504d" stroke="#c0504d" stroke-width="0.4"/>
<rect x="30.99" y="148.53" width="1.8" height="1.8" fill="#c0504d" stroke="#c0504d" stroke-width="0.4"/>
<rect x="42.48" y="206.48" width="1.8" height="1.8" fill="#c0504d" stroke="#c0504d" stroke-width="0.4"/>
<rect x="53.97" y="216.05" width="1.8" height="1.8" fill="#c0504d" stroke="#c0504d" stroke-width="0.4"/>
<rect x="65.46" y="190" width="1.8" height="1.8" fill="#c0504d" stroke="#c0504d" stroke-width="0.4"/>
<rect x="76.95" y="200.1" width="1.8" height="1.8" fill="#c0504d" stroke="#c0504d" stroke-width="0.4"/>
<rect x="88.44" y="178.3" width="1.8" height="1.8" fill="#c0504d" stroke="#c0504d" stroke-width="0.4"/>
<rect x="99.93" y="187.87" width="1.8" height="1.8" fill="#c0504d" stroke="#c0504d" stroke-width="0.4"/>
<rect x="111.42" y="178.83" width="1.8" height="1.8" fill="#c0504d" stroke="#c0504d" stroke-width="0.4"/>
<rect x="122.91" y="153.84" width="1.8" height="1.8" fill="#c0504d" stroke="#c0504d" stroke-width="0.4"/>
<rect x="134.4" y="188.94" width="1.8" height="1.8" fill="#c0504d" stroke="#c0504d" stroke-width="0.4"/>
<rect x="145.89" y="154.38" width="1.8" height="1.8" fill="#c0504d" stroke="#c0504d" stroke-width="0.4"/>
<rect x="157.38" y="161.29" width="1.8" height="1.8" fill="#c0504d" stroke="#c0504d" stroke-width="0.4"/>
<rect x="168.87" y="183.62" width="1.8" height="1.8" fill="#c0504d" stroke="#c0504d" stroke-width="0.4"/>
<rect x="180.36" y="173.52" width="1.8" height="1.8" fill="#c0504d" stroke="#c0504d" stroke-width="0.4"/>
<rect x="191.85" y="175.64" width="1.8" height="1.8" fill="#c0504d" stroke="#c0504d" stroke-width="0.4"/>
<rect x="203.34" y="186.81" width="1.8" height="1.8" fill="#c0504d" stroke="#c0504d" stroke-width="0.4"/>
<rect x="214.83" y="166.61" width="1.8" height="1.8" fill="#c0504d" stroke="#c0504d" stroke-width="0.4"/>
<line x1="220" y1="189.6" x2="226.1" y2="189.6" stroke="#4f81bd" stroke-width="1.1"/>
<path d="M223.05,188.5L224.15,189.6L223.05,190.7L221.95,189.6Z" fill="#4f81bd"/>
<text class="sr" x="229.8" y="191.6" font-size="4.7" fill="#505050">DIG1</text>
<line x1="220.3" y1="198.6" x2="226.3" y2="198.6" stroke="#c0504d" stroke-width="1.1"/>
<rect x="222.4" y="197.7" width="1.8" height="1.8" fill="#c0504d"/>
<text class="sr" x="229.5" y="200.8" font-size="4.5" fill="#505050">STE12</text>
<path d="M19.1,139.6V234.6H31.6V139.6" fill="none" stroke="#d63a3a" stroke-width="1.65" stroke-dasharray="4.6,3.6" stroke-linejoin="round"/>
<path d="M31.6,139.6H19.1" fill="none" stroke="#d63a3a" stroke-width="1.65" stroke-dasharray="0,2.12,5,100"/>
<path d="M111.4,139.4V234.6H124.1V139.4" fill="none" stroke="#d63a3a" stroke-width="1.65" stroke-dasharray="4.6,3.6" stroke-linejoin="round"/>
<path d="M124.1,139.4H111.4" fill="none" stroke="#d63a3a" stroke-width="1.65" stroke-dasharray="0,2.16,5.08,100"/>
<path d="M134.8,139.4V234.6H147.5V139.4" fill="none" stroke="#d63a3a" stroke-width="1.65" stroke-dasharray="4.6,3.6" stroke-linejoin="round"/>
<path d="M147.5,139.4H134.8" fill="none" stroke="#d63a3a" stroke-width="1.65" stroke-dasharray="0,2.16,5.08,100"/>
<path d="M203.8,139V234.6H216.7V139" fill="none" stroke="#d63a3a" stroke-width="1.65" stroke-dasharray="4.6,3.6" stroke-linejoin="round"/>
<path d="M216.7,139H203.8" fill="none" stroke="#d63a3a" stroke-width="1.65" stroke-dasharray="0,2.19,5.16,100"/>
<rect x="333.3" y="18.3" width="248.2" height="116.7" fill="#fff" stroke="#d9d9d9" stroke-width="1"/>
<line x1="348" y1="22" x2="348" y2="118.6" stroke="#bfbfbf" stroke-width="0.6"/>
<line x1="348" y1="118.6" x2="559.54" y2="118.6" stroke="#bfbfbf" stroke-width="0.6"/>
<text x="345.5" y="119.8" font-size="3.3" text-anchor="end" fill="#404040">-1</text>
<text x="345.5" y="100.48" font-size="3.3" text-anchor="end" fill="#404040">-0.5</text>
<text x="345.5" y="81.16" font-size="3.3" text-anchor="end" fill="#404040">0</text>
<text x="345.5" y="61.84" font-size="3.3" text-anchor="end" fill="#404040">0.5</text>
<text x="345.5" y="42.52" font-size="3.3" text-anchor="end" fill="#404040">1</text>
<text x="345.5" y="23.2" font-size="3.3" text-anchor="end" fill="#404040">1.5</text>
<text x="353.5" y="124.5" font-size="3.3" text-anchor="middle" fill="#404040">1</text>
<text x="365.22" y="124.5" font-size="3.3" text-anchor="middle" fill="#404040">2</text>
<text x="376.94" y="124.5" font-size="3.3" text-anchor="middle" fill="#404040">3</text>
<text x="388.66" y="124.5" font-size="3.3" text-anchor="middle" fill="#404040">4</text>
<text x="400.38" y="124.5" font-size="3.3" text-anchor="middle" fill="#404040">5</text>
<text x="412.1" y="124.5" font-size="3.3" text-anchor="middle" fill="#404040">6</text>
<text x="423.82" y="124.5" font-size="3.3" text-anchor="middle" fill="#404040">7</text>
<text x="435.54" y="124.5" font-size="3.3" text-anchor="middle" fill="#404040">8</text>
<text x="447.26" y="124.5" font-size="3.3" text-anchor="middle" fill="#404040">9</text>
<text x="458.98" y="124.5" font-size="3.3" text-anchor="middle" fill="#404040">10</text>
<text x="470.7" y="124.5" font-size="3.3" text-anchor="middle" fill="#404040">11</text>
<text x="482.42" y="124.5" font-size="3.3" text-anchor="middle" fill="#404040">12</text>
<text x="494.14" y="124.5" font-size="3.3" text-anchor="middle" fill="#404040">13</text>
<text x="505.86" y="124.5" font-size="3.3" text-anchor="middle" fill="#404040">14</text>
<text x="517.58" y="124.5" font-size="3.3" text-anchor="middle" fill="#404040">15</text>
<text x="529.3" y="124.5" font-size="3.3" text-anchor="middle" fill="#404040">16</text>
<text x="541.02" y="124.5" font-size="3.3" text-anchor="middle" fill="#404040">17</text>
<text x="552.74" y="124.5" font-size="3.3" text-anchor="middle" fill="#404040">18</text>
<text x="453.2" y="132.1" font-size="4.8" font-weight="bold" text-anchor="middle" fill="#111" stroke="#111" stroke-width="0.12">Time</text>
<text transform="translate(338.5,70.2) rotate(-90)" font-size="4.65" font-weight="bold" text-anchor="middle" fill="#111" stroke="#111" stroke-width="0.1">Gene expression</text>
<polyline points="353.5,108.55 365.22,111.26 376.94,99.28 388.66,82.66 400.38,93.87 412.1,73.78 423.82,32.82 435.54,79.19 447.26,68.37 458.98,78.03 470.7,78.03 482.42,72.62 494.14,79.19 505.86,89.62 517.58,74.55 529.3,70.3 541.02,70.3 552.74,86.14" fill="none" stroke="#b9d08c" stroke-width="1.3" stroke-linejoin="round"/>
<rect x="352.2" y="107.25" width="2.6" height="2.6" fill="#e8f0d8" stroke="#b9d08c" stroke-width="0.4"/>
<rect x="363.92" y="109.96" width="2.6" height="2.6" fill="#e8f0d8" stroke="#b9d08c" stroke-width="0.4"/>
<rect x="375.64" y="97.98" width="2.6" height="2.6" fill="#e8f0d8" stroke="#b9d08c" stroke-width="0.4"/>
<rect x="387.36" y="81.36" width="2.6" height="2.6" fill="#e8f0d8" stroke="#b9d08c" stroke-width="0.4"/>
<rect x="399.08" y="92.57" width="2.6" height="2.6" fill="#e8f0d8" stroke="#b9d08c" stroke-width="0.4"/>
<rect x="410.8" y="72.48" width="2.6" height="2.6" fill="#e8f0d8" stroke="#b9d08c" stroke-width="0.4"/>
<rect x="422.52" y="31.52" width="2.6" height="2.6" fill="#e8f0d8" stroke="#b9d08c" stroke-width="0.4"/>
<rect x="434.24" y="77.89" width="2.6" height="2.6" fill="#e8f0d8" stroke="#b9d08c" stroke-width="0.4"/>
<rect x="445.96" y="67.07" width="2.6" height="2.6" fill="#e8f0d8" stroke="#b9d08c" stroke-width="0.4"/>
<rect x="457.68" y="76.73" width="2.6" height="2.6" fill="#e8f0d8" stroke="#b9d08c" stroke-width="0.4"/>
<rect x="469.4" y="76.73" width="2.6" height="2.6" fill="#e8f0d8" stroke="#b9d08c" stroke-width="0.4"/>
<rect x="481.12" y="71.32" width="2.6" height="2.6" fill="#e8f0d8" stroke="#b9d08c" stroke-width="0.4"/>
<rect x="492.84" y="77.89" width="2.6" height="2.6" fill="#e8f0d8" stroke="#b9d08c" stroke-width="0.4"/>
<rect x="504.56" y="88.32" width="2.6" height="2.6" fill="#e8f0d8" stroke="#b9d08c" stroke-width="0.4"/>
<rect x="516.28" y="73.25" width="2.6" height="2.6" fill="#e8f0d8" stroke="#b9d08c" stroke-width="0.4"/>
<rect x="528" y="69" width="2.6" height="2.6" fill="#e8f0d8" stroke="#b9d08c" stroke-width="0.4"/>
<rect x="539.72" y="69" width="2.6" height="2.6" fill="#e8f0d8" stroke="#b9d08c" stroke-width="0.4"/>
<rect x="551.44" y="84.84" width="2.6" height="2.6" fill="#e8f0d8" stroke="#b9d08c" stroke-width="0.4"/>
<polyline points="353.5,113.19 365.22,109.71 376.94,89.23 388.66,81.12 400.38,93.87 412.1,64.5 423.82,73.78 435.54,87.3 447.26,68.37 458.98,84.98 470.7,80.35 482.42,61.41 494.14,86.14 505.86,84.98 517.58,65.66 529.3,74.55 541.02,77.26 552.74,96.19" fill="none" stroke="#77933c" stroke-width="1.3" stroke-linejoin="round"/>
<circle cx="353.5" cy="113.19" r="0.8" fill="#77933c" stroke="#77933c" stroke-width="0.4"/>
<circle cx="365.22" cy="109.71" r="0.8" fill="#77933c" stroke="#77933c" stroke-width="0.4"/>
<circle cx="376.94" cy="89.23" r="0.8" fill="#77933c" stroke="#77933c" stroke-width="0.4"/>
<circle cx="388.66" cy="81.12" r="0.8" fill="#77933c" stroke="#77933c" stroke-width="0.4"/>
<circle cx="400.38" cy="93.87" r="0.8" fill="#77933c" stroke="#77933c" stroke-width="0.4"/>
<circle cx="412.1" cy="64.5" r="0.8" fill="#77933c" stroke="#77933c" stroke-width="0.4"/>
<circle cx="423.82" cy="73.78" r="0.8" fill="#77933c" stroke="#77933c" stroke-width="0.4"/>
<circle cx="435.54" cy="87.3" r="0.8" fill="#77933c" stroke="#77933c" stroke-width="0.4"/>
<circle cx="447.26" cy="68.37" r="0.8" fill="#77933c" stroke="#77933c" stroke-width="0.4"/>
<circle cx="458.98" cy="84.98" r="0.8" fill="#77933c" stroke="#77933c" stroke-width="0.4"/>
<circle cx="470.7" cy="80.35" r="0.8" fill="#77933c" stroke="#77933c" stroke-width="0.4"/>
<circle cx="482.42" cy="61.41" r="0.8" fill="#77933c" stroke="#77933c" stroke-width="0.4"/>
<circle cx="494.14" cy="86.14" r="0.8" fill="#77933c" stroke="#77933c" stroke-width="0.4"/>
<circle cx="505.86" cy="84.98" r="0.8" fill="#77933c" stroke="#77933c" stroke-width="0.4"/>
<circle cx="517.58" cy="65.66" r="0.8" fill="#77933c" stroke="#77933c" stroke-width="0.4"/>
<circle cx="529.3" cy="74.55" r="0.8" fill="#77933c" stroke="#77933c" stroke-width="0.4"/>
<circle cx="541.02" cy="77.26" r="0.8" fill="#77933c" stroke="#77933c" stroke-width="0.4"/>
<circle cx="552.74" cy="96.19" r="0.8" fill="#77933c" stroke="#77933c" stroke-width="0.4"/>
<line x1="560" y1="74" x2="566.4" y2="74" stroke="#77933c" stroke-width="1"/>
<text x="566.8" y="75.1" font-size="2.9" fill="#4a4a4a">YFL022C</text>
<line x1="560" y1="79.5" x2="566.4" y2="79.5" stroke="#b9d08c" stroke-width="1"/>
<text x="566.8" y="80.6" font-size="2.9" fill="#4a4a4a">YFL021W</text>
<path d="M388.8,21.6V117.6H401V21.6" fill="none" stroke="#d63a3a" stroke-width="1.65" stroke-dasharray="4.6,3.6" stroke-linejoin="round"/>
<path d="M401,21.6H388.8" fill="none" stroke="#d63a3a" stroke-width="1.65" stroke-dasharray="0,2.07,4.88,100"/>
<path d="M422.2,21.6V117.6H434.8V21.6" fill="none" stroke="#d63a3a" stroke-width="1.65" stroke-dasharray="4.6,3.6" stroke-linejoin="round"/>
<path d="M434.8,21.6H422.2" fill="none" stroke="#d63a3a" stroke-width="1.65" stroke-dasharray="0,2.14,5.04,100"/>
<path d="M539.8,21.6V117.6H553V21.6" fill="none" stroke="#d63a3a" stroke-width="1.65" stroke-dasharray="4.6,3.6" stroke-linejoin="round"/>
<path d="M553,21.6H539.8" fill="none" stroke="#d63a3a" stroke-width="1.65" stroke-dasharray="0,2.24,5.28,100"/>
<rect x="333.3" y="135" width="248.2" height="116.2" fill="#fff" stroke="#d9d9d9" stroke-width="1"/>
<line x1="348" y1="139" x2="348" y2="235.9" stroke="#bfbfbf" stroke-width="0.6"/>
<line x1="348" y1="235.9" x2="559.54" y2="235.9" stroke="#bfbfbf" stroke-width="0.6"/>
<text x="345.5" y="237.1" font-size="3.3" text-anchor="end" fill="#404040">-1</text>
<text x="345.5" y="227.41" font-size="3.3" text-anchor="end" fill="#404040">-0.8</text>
<text x="345.5" y="217.72" font-size="3.3" text-anchor="end" fill="#404040">-0.6</text>
<text x="345.5" y="208.03" font-size="3.3" text-anchor="end" fill="#404040">-0.4</text>
<text x="345.5" y="198.34" font-size="3.3" text-anchor="end" fill="#404040">-0.2</text>
<text x="345.5" y="188.65" font-size="3.3" text-anchor="end" fill="#404040">0</text>
<text x="345.5" y="178.96" font-size="3.3" text-anchor="end" fill="#404040">0.2</text>
<text x="345.5" y="169.27" font-size="3.3" text-anchor="end" fill="#404040">0.4</text>
<text x="345.5" y="159.58" font-size="3.3" text-anchor="end" fill="#404040">0.6</text>
<text x="345.5" y="149.89" font-size="3.3" text-anchor="end" fill="#404040">0.8</text>
<text x="345.5" y="140.2" font-size="3.3" text-anchor="end" fill="#404040">1</text>
<text x="353.5" y="241.7" font-size="3.3" text-anchor="middle" fill="#404040">1</text>
<text x="365.22" y="241.7" font-size="3.3" text-anchor="middle" fill="#404040">2</text>
<text x="376.94" y="241.7" font-size="3.3" text-anchor="middle" fill="#404040">3</text>
<text x="388.66" y="241.7" font-size="3.3" text-anchor="middle" fill="#404040">4</text>
<text x="400.38" y="241.7" font-size="3.3" text-anchor="middle" fill="#404040">5</text>
<text x="412.1" y="241.7" font-size="3.3" text-anchor="middle" fill="#404040">6</text>
<text x="423.82" y="241.7" font-size="3.3" text-anchor="middle" fill="#404040">7</text>
<text x="435.54" y="241.7" font-size="3.3" text-anchor="middle" fill="#404040">8</text>
<text x="447.26" y="241.7" font-size="3.3" text-anchor="middle" fill="#404040">9</text>
<text x="458.98" y="241.7" font-size="3.3" text-anchor="middle" fill="#404040">10</text>
<text x="470.7" y="241.7" font-size="3.3" text-anchor="middle" fill="#404040">11</text>
<text x="482.42" y="241.7" font-size="3.3" text-anchor="middle" fill="#404040">12</text>
<text x="494.14" y="241.7" font-size="3.3" text-anchor="middle" fill="#404040">13</text>
<text x="505.86" y="241.7" font-size="3.3" text-anchor="middle" fill="#404040">14</text>
<text x="517.58" y="241.7" font-size="3.3" text-anchor="middle" fill="#404040">15</text>
<text x="529.3" y="241.7" font-size="3.3" text-anchor="middle" fill="#404040">16</text>
<text x="541.02" y="241.7" font-size="3.3" text-anchor="middle" fill="#404040">17</text>
<text x="552.74" y="241.7" font-size="3.3" text-anchor="middle" fill="#404040">18</text>
<text x="453.2" y="249.2" font-size="4.8" font-weight="bold" text-anchor="middle" fill="#111" stroke="#111" stroke-width="0.12">Time</text>
<text transform="translate(338.5,188) rotate(-90)" font-size="4.65" font-weight="bold" text-anchor="middle" fill="#111" stroke="#111" stroke-width="0.1">Gene expression</text>
<polyline points="353.5,222.33 365.22,204.89 376.94,209.74 388.66,192.78 400.38,206.83 412.1,173.88 423.82,168.55 435.54,183.57 447.26,187.45 458.98,198.11 470.7,192.3 482.42,189.87 494.14,170.49 505.86,191.33 517.58,182.6 529.3,165.16 541.02,177.76 552.74,192.3" fill="none" stroke="#9bbb59" stroke-width="1.2" stroke-linejoin="round"/>
<path d="M353.5,221.25L354.58,222.33L353.5,223.41L352.42,222.33Z" fill="#9bbb59" stroke="#9bbb59" stroke-width="0.4"/>
<path d="M365.22,203.81L366.3,204.89L365.22,205.97L364.14,204.89Z" fill="#9bbb59" stroke="#9bbb59" stroke-width="0.4"/>
<path d="M376.94,208.66L378.02,209.74L376.94,210.82L375.86,209.74Z" fill="#9bbb59" stroke="#9bbb59" stroke-width="0.4"/>
<path d="M388.66,191.7L389.74,192.78L388.66,193.86L387.58,192.78Z" fill="#9bbb59" stroke="#9bbb59" stroke-width="0.4"/>
<path d="M400.38,205.75L401.46,206.83L400.38,207.91L399.3,206.83Z" fill="#9bbb59" stroke="#9bbb59" stroke-width="0.4"/>
<path d="M412.1,172.8L413.18,173.88L412.1,174.96L411.02,173.88Z" fill="#9bbb59" stroke="#9bbb59" stroke-width="0.4"/>
<path d="M423.82,167.47L424.9,168.55L423.82,169.63L422.74,168.55Z" fill="#9bbb59" stroke="#9bbb59" stroke-width="0.4"/>
<path d="M435.54,182.49L436.62,183.57L435.54,184.65L434.46,183.57Z" fill="#9bbb59" stroke="#9bbb59" stroke-width="0.4"/>
<path d="M447.26,186.37L448.34,187.45L447.26,188.53L446.18,187.45Z" fill="#9bbb59" stroke="#9bbb59" stroke-width="0.4"/>
<path d="M458.98,197.03L460.06,198.11L458.98,199.19L457.9,198.11Z" fill="#9bbb59" stroke="#9bbb59" stroke-width="0.4"/>
<path d="M470.7,191.22L471.78,192.3L470.7,193.38L469.62,192.3Z" fill="#9bbb59" stroke="#9bbb59" stroke-width="0.4"/>
<path d="M482.42,188.79L483.5,189.87L482.42,190.95L481.34,189.87Z" fill="#9bbb59" stroke="#9bbb59" stroke-width="0.4"/>
<path d="M494.14,169.41L495.22,170.49L494.14,171.57L493.06,170.49Z" fill="#9bbb59" stroke="#9bbb59" stroke-width="0.4"/>
<path d="M505.86,190.25L506.94,191.33L505.86,192.41L504.78,191.33Z" fill="#9bbb59" stroke="#9bbb59" stroke-width="0.4"/>
<path d="M517.58,181.52L518.66,182.6L517.58,183.69L516.5,182.6Z" fill="#9bbb59" stroke="#9bbb59" stroke-width="0.4"/>
<path d="M529.3,164.08L530.38,165.16L529.3,166.24L528.22,165.16Z" fill="#9bbb59" stroke="#9bbb59" stroke-width="0.4"/>
<path d="M541.02,176.68L542.1,177.76L541.02,178.84L539.94,177.76Z" fill="#9bbb59" stroke="#9bbb59" stroke-width="0.4"/>
<path d="M552.74,191.22L553.82,192.3L552.74,193.38L551.66,192.3Z" fill="#9bbb59" stroke="#9bbb59" stroke-width="0.4"/>
<polyline points="353.5,209.25 365.22,203.44 376.94,202.47 388.66,192.78 400.38,210.71 412.1,150.14 423.82,165.65 435.54,204.89 447.26,178.24 458.98,206.35 470.7,206.35 482.42,178.73 494.14,187.93 505.86,165.16 517.58,183.09 529.3,177.28 541.02,187.45 552.74,207.31" fill="none" stroke="#f79646" stroke-width="1.2" stroke-linejoin="round"/>
<circle cx="353.5" cy="209.25" r="0.9" fill="#f79646" stroke="#f79646" stroke-width="0.4"/>
<circle cx="365.22" cy="203.44" r="0.9" fill="#f79646" stroke="#f79646" stroke-width="0.4"/>
<circle cx="376.94" cy="202.47" r="0.9" fill="#f79646" stroke="#f79646" stroke-width="0.4"/>
<circle cx="388.66" cy="192.78" r="0.9" fill="#f79646" stroke="#f79646" stroke-width="0.4"/>
<circle cx="400.38" cy="210.71" r="0.9" fill="#f79646" stroke="#f79646" stroke-width="0.4"/>
<circle cx="412.1" cy="150.14" r="0.9" fill="#f79646" stroke="#f79646" stroke-width="0.4"/>
<circle cx="423.82" cy="165.65" r="0.9" fill="#f79646" stroke="#f79646" stroke-width="0.4"/>
<circle cx="435.54" cy="204.89" r="0.9" fill="#f79646" stroke="#f79646" stroke-width="0.4"/>
<circle cx="447.26" cy="178.24" r="0.9" fill="#f79646" stroke="#f79646" stroke-width="0.4"/>
<circle cx="458.98" cy="206.35" r="0.9" fill="#f79646" stroke="#f79646" stroke-width="0.4"/>
<circle cx="470.7" cy="206.35" r="0.9" fill="#f79646" stroke="#f79646" stroke-width="0.4"/>
<circle cx="482.42" cy="178.73" r="0.9" fill="#f79646" stroke="#f79646" stroke-width="0.4"/>
<circle cx="494.14" cy="187.93" r="0.9" fill="#f79646" stroke="#f79646" stroke-width="0.4"/>
<circle cx="505.86" cy="165.16" r="0.9" fill="#f79646" stroke="#f79646" stroke-width="0.4"/>
<circle cx="517.58" cy="183.09" r="0.9" fill="#f79646" stroke="#f79646" stroke-width="0.4"/>
<circle cx="529.3" cy="177.28" r="0.9" fill="#f79646" stroke="#f79646" stroke-width="0.4"/>
<circle cx="541.02" cy="187.45" r="0.9" fill="#f79646" stroke="#f79646" stroke-width="0.4"/>
<circle cx="552.74" cy="207.31" r="0.9" fill="#f79646" stroke="#f79646" stroke-width="0.4"/>
<polyline points="353.5,202.47 365.22,191.81 376.94,197.62 388.66,194.23 400.38,205.86 412.1,183.57 423.82,187.45 435.54,204.89 447.26,182.6 458.98,189.87 470.7,201.5 482.42,165.16 494.14,193.26 505.86,174.85 517.58,189.87 529.3,166.62 541.02,187.45 552.74,182.6" fill="none" stroke="#8064a2" stroke-width="1.2" stroke-linejoin="round"/>
<rect x="352.6" y="201.57" width="1.8" height="1.8" fill="#8064a2" stroke="#8064a2" stroke-width="0.4"/>
<rect x="364.32" y="190.91" width="1.8" height="1.8" fill="#8064a2" stroke="#8064a2" stroke-width="0.4"/>
<rect x="376.04" y="196.72" width="1.8" height="1.8" fill="#8064a2" stroke="#8064a2" stroke-width="0.4"/>
<rect x="387.76" y="193.33" width="1.8" height="1.8" fill="#8064a2" stroke="#8064a2" stroke-width="0.4"/>
<rect x="399.48" y="204.96" width="1.8" height="1.8" fill="#8064a2" stroke="#8064a2" stroke-width="0.4"/>
<rect x="411.2" y="182.67" width="1.8" height="1.8" fill="#8064a2" stroke="#8064a2" stroke-width="0.4"/>
<rect x="422.92" y="186.55" width="1.8" height="1.8" fill="#8064a2" stroke="#8064a2" stroke-width="0.4"/>
<rect x="434.64" y="203.99" width="1.8" height="1.8" fill="#8064a2" stroke="#8064a2" stroke-width="0.4"/>
<rect x="446.36" y="181.7" width="1.8" height="1.8" fill="#8064a2" stroke="#8064a2" stroke-width="0.4"/>
<rect x="458.08" y="188.97" width="1.8" height="1.8" fill="#8064a2" stroke="#8064a2" stroke-width="0.4"/>
<rect x="469.8" y="200.6" width="1.8" height="1.8" fill="#8064a2" stroke="#8064a2" stroke-width="0.4"/>
<rect x="481.52" y="164.26" width="1.8" height="1.8" fill="#8064a2" stroke="#8064a2" stroke-width="0.4"/>
<rect x="493.24" y="192.36" width="1.8" height="1.8" fill="#8064a2" stroke="#8064a2" stroke-width="0.4"/>
<rect x="504.96" y="173.95" width="1.8" height="1.8" fill="#8064a2" stroke="#8064a2" stroke-width="0.4"/>
<rect x="516.68" y="188.97" width="1.8" height="1.8" fill="#8064a2" stroke="#8064a2" stroke-width="0.4"/>
<rect x="528.4" y="165.72" width="1.8" height="1.8" fill="#8064a2" stroke="#8064a2" stroke-width="0.4"/>
<rect x="540.12" y="186.55" width="1.8" height="1.8" fill="#8064a2" stroke="#8064a2" stroke-width="0.4"/>
<rect x="551.84" y="181.7" width="1.8" height="1.8" fill="#8064a2" stroke="#8064a2" stroke-width="0.4"/>
<polyline points="353.5,183.57 365.22,186 376.94,177.76 388.66,190.84 400.38,177.76 412.1,202.47 423.82,187.45 435.54,163.71 447.26,185.03 458.98,180.67 470.7,197.14 482.42,192.78 494.14,199.56 505.86,210.22 517.58,172.43 529.3,194.23 541.02,191.81 552.74,173.88" fill="none" stroke="#4bacc6" stroke-width="1.2" stroke-linejoin="round"/>
<path d="M353.5,182.49L354.58,183.57L353.5,184.65L352.42,183.57Z" fill="#4bacc6" stroke="#4bacc6" stroke-width="0.4"/>
<path d="M365.22,184.92L366.3,186L365.22,187.08L364.14,186Z" fill="#4bacc6" stroke="#4bacc6" stroke-width="0.4"/>
<path d="M376.94,176.68L378.02,177.76L376.94,178.84L375.86,177.76Z" fill="#4bacc6" stroke="#4bacc6" stroke-width="0.4"/>
<path d="M388.66,189.76L389.74,190.84L388.66,191.92L387.58,190.84Z" fill="#4bacc6" stroke="#4bacc6" stroke-width="0.4"/>
<path d="M400.38,176.68L401.46,177.76L400.38,178.84L399.3,177.76Z" fill="#4bacc6" stroke="#4bacc6" stroke-width="0.4"/>
<path d="M412.1,201.39L413.18,202.47L412.1,203.55L411.02,202.47Z" fill="#4bacc6" stroke="#4bacc6" stroke-width="0.4"/>
<path d="M423.82,186.37L424.9,187.45L423.82,188.53L422.74,187.45Z" fill="#4bacc6" stroke="#4bacc6" stroke-width="0.4"/>
<path d="M435.54,162.63L436.62,163.71L435.54,164.79L434.46,163.71Z" fill="#4bacc6" stroke="#4bacc6" stroke-width="0.4"/>
<path d="M447.26,183.95L448.34,185.03L447.26,186.11L446.18,185.03Z" fill="#4bacc6" stroke="#4bacc6" stroke-width="0.4"/>
<path d="M458.98,179.59L460.06,180.67L458.98,181.75L457.9,180.67Z" fill="#4bacc6" stroke="#4bacc6" stroke-width="0.4"/>
<path d="M470.7,196.06L471.78,197.14L470.7,198.22L469.62,197.14Z" fill="#4bacc6" stroke="#4bacc6" stroke-width="0.4"/>
<path d="M482.42,191.7L483.5,192.78L482.42,193.86L481.34,192.78Z" fill="#4bacc6" stroke="#4bacc6" stroke-width="0.4"/>
<path d="M494.14,198.48L495.22,199.56L494.14,200.64L493.06,199.56Z" fill="#4bacc6" stroke="#4bacc6" stroke-width="0.4"/>
<path d="M505.86,209.14L506.94,210.22L505.86,211.3L504.78,210.22Z" fill="#4bacc6" stroke="#4bacc6" stroke-width="0.4"/>
<path d="M517.58,171.35L518.66,172.43L517.58,173.51L516.5,172.43Z" fill="#4bacc6" stroke="#4bacc6" stroke-width="0.4"/>
<path d="M529.3,193.15L530.38,194.23L529.3,195.31L528.22,194.23Z" fill="#4bacc6" stroke="#4bacc6" stroke-width="0.4"/>
<path d="M541.02,190.73L542.1,191.81L541.02,192.89L539.94,191.81Z" fill="#4bacc6" stroke="#4bacc6" stroke-width="0.4"/>
<path d="M552.74,172.8L553.82,173.88L552.74,174.96L551.66,173.88Z" fill="#4bacc6" stroke="#4bacc6" stroke-width="0.4"/>
<polyline points="353.5,182.12 365.22,184.54 376.94,187.93 388.66,189.39 400.38,173.88 412.1,182.6 423.82,185.03 435.54,185.03 447.26,177.28 458.98,189.39 470.7,187.45 482.42,192.3 494.14,203.44 505.86,201.99 517.58,188.42 529.3,188.42 541.02,191.81 552.74,177.76" fill="none" stroke="#4f81bd" stroke-width="1.2" stroke-linejoin="round"/>
<rect x="352.6" y="181.22" width="1.8" height="1.8" fill="#4f81bd" stroke="#4f81bd" stroke-width="0.4"/>
<rect x="364.32" y="183.64" width="1.8" height="1.8" fill="#4f81bd" stroke="#4f81bd" stroke-width="0.4"/>
<rect x="376.04" y="187.03" width="1.8" height="1.8" fill="#4f81bd" stroke="#4f81bd" stroke-width="0.4"/>
<rect x="387.76" y="188.49" width="1.8" height="1.8" fill="#4f81bd" stroke="#4f81bd" stroke-width="0.4"/>
<rect x="399.48" y="172.98" width="1.8" height="1.8" fill="#4f81bd" stroke="#4f81bd" stroke-width="0.4"/>
<rect x="411.2" y="181.7" width="1.8" height="1.8" fill="#4f81bd" stroke="#4f81bd" stroke-width="0.4"/>
<rect x="422.92" y="184.13" width="1.8" height="1.8" fill="#4f81bd" stroke="#4f81bd" stroke-width="0.4"/>
<rect x="434.64" y="184.13" width="1.8" height="1.8" fill="#4f81bd" stroke="#4f81bd" stroke-width="0.4"/>
<rect x="446.36" y="176.38" width="1.8" height="1.8" fill="#4f81bd" stroke="#4f81bd" stroke-width="0.4"/>
<rect x="458.08" y="188.49" width="1.8" height="1.8" fill="#4f81bd" stroke="#4f81bd" stroke-width="0.4"/>
<rect x="469.8" y="186.55" width="1.8" height="1.8" fill="#4f81bd" stroke="#4f81bd" stroke-width="0.4"/>
<rect x="481.52" y="191.4" width="1.8" height="1.8" fill="#4f81bd" stroke="#4f81bd" stroke-width="0.4"/>
<rect x="493.24" y="202.54" width="1.8" height="1.8" fill="#4f81bd" stroke="#4f81bd" stroke-width="0.4"/>
<rect x="504.96" y="201.09" width="1.8" height="1.8" fill="#4f81bd" stroke="#4f81bd" stroke-width="0.4"/>
<rect x="516.68" y="187.52" width="1.8" height="1.8" fill="#4f81bd" stroke="#4f81bd" stroke-width="0.4"/>
<rect x="528.4" y="187.52" width="1.8" height="1.8" fill="#4f81bd" stroke="#4f81bd" stroke-width="0.4"/>
<rect x="540.12" y="190.91" width="1.8" height="1.8" fill="#4f81bd" stroke="#4f81bd" stroke-width="0.4"/>
<rect x="551.84" y="176.86" width="1.8" height="1.8" fill="#4f81bd" stroke="#4f81bd" stroke-width="0.4"/>
<polyline points="353.5,238.32 365.22,216.52 376.94,195.2 388.66,180.18 400.38,163.71 412.1,191.33 423.82,189.39 435.54,171.95 447.26,176.79 458.98,179.7 470.7,184.06 482.42,183.09 494.14,205.38 505.86,177.28 517.58,187.45 529.3,182.6 541.02,197.14 552.74,164.19" fill="none" stroke="#c0504d" stroke-width="1.2" stroke-linejoin="round"/>
<circle cx="353.5" cy="238.32" r="0.9" fill="#c0504d" stroke="#c0504d" stroke-width="0.4"/>
<circle cx="365.22" cy="216.52" r="0.9" fill="#c0504d" stroke="#c0504d" stroke-width="0.4"/>
<circle cx="376.94" cy="195.2" r="0.9" fill="#c0504d" stroke="#c0504d" stroke-width="0.4"/>
<circle cx="388.66" cy="180.18" r="0.9" fill="#c0504d" stroke="#c0504d" stroke-width="0.4"/>
<circle cx="400.38" cy="163.71" r="0.9" fill="#c0504d" stroke="#c0504d" stroke-width="0.4"/>
<circle cx="412.1" cy="191.33" r="0.9" fill="#c0504d" stroke="#c0504d" stroke-width="0.4"/>
<circle cx="423.82" cy="189.39" r="0.9" fill="#c0504d" stroke="#c0504d" stroke-width="0.4"/>
<circle cx="435.54" cy="171.95" r="0.9" fill="#c0504d" stroke="#c0504d" stroke-width="0.4"/>
<circle cx="447.26" cy="176.79" r="0.9" fill="#c0504d" stroke="#c0504d" stroke-width="0.4"/>
<circle cx="458.98" cy="179.7" r="0.9" fill="#c0504d" stroke="#c0504d" stroke-width="0.4"/>
<circle cx="470.7" cy="184.06" r="0.9" fill="#c0504d" stroke="#c0504d" stroke-width="0.4"/>
<circle cx="482.42" cy="183.09" r="0.9" fill="#c0504d" stroke="#c0504d" stroke-width="0.4"/>
<circle cx="494.14" cy="205.38" r="0.9" fill="#c0504d" stroke="#c0504d" stroke-width="0.4"/>
<circle cx="505.86" cy="177.28" r="0.9" fill="#c0504d" stroke="#c0504d" stroke-width="0.4"/>
<circle cx="517.58" cy="187.45" r="0.9" fill="#c0504d" stroke="#c0504d" stroke-width="0.4"/>
<circle cx="529.3" cy="182.6" r="0.9" fill="#c0504d" stroke="#c0504d" stroke-width="0.4"/>
<circle cx="541.02" cy="197.14" r="0.9" fill="#c0504d" stroke="#c0504d" stroke-width="0.4"/>
<circle cx="552.74" cy="164.19" r="0.9" fill="#c0504d" stroke="#c0504d" stroke-width="0.4"/>
<line x1="564.6" y1="179.2" x2="570.3" y2="179.2" stroke="#4f81bd" stroke-width="1"/>
<text x="570.8" y="180.3" font-size="3.0" fill="#555">ACE2</text>
<line x1="564.6" y1="184.92" x2="570.3" y2="184.92" stroke="#c0504d" stroke-width="1"/>
<text x="570.8" y="186.02" font-size="3.0" fill="#555">FKH2</text>
<line x1="564.6" y1="190.64" x2="570.3" y2="190.64" stroke="#9bbb59" stroke-width="1"/>
<text x="570.8" y="191.74" font-size="3.0" fill="#555">KSS1</text>
<line x1="564.6" y1="196.36" x2="570.3" y2="196.36" stroke="#8064a2" stroke-width="1"/>
<text x="570.8" y="197.46" font-size="3.0" fill="#555">RAP1</text>
<line x1="564.6" y1="202.08" x2="570.3" y2="202.08" stroke="#4bacc6" stroke-width="1"/>
<text x="570.8" y="203.18" font-size="3.0" fill="#555">SWI5</text>
<line x1="564.6" y1="207.8" x2="570.3" y2="207.8" stroke="#f79646" stroke-width="1"/>
<text x="570.8" y="208.9" font-size="3.0" fill="#555">UME6</text>
<path d="M388.8,139.4V235.2H400.9V139.4" fill="none" stroke="#d63a3a" stroke-width="1.65" stroke-dasharray="4.6,3.6" stroke-linejoin="round"/>
<path d="M400.9,139.4H388.8" fill="none" stroke="#d63a3a" stroke-width="1.65" stroke-dasharray="0,2.06,4.84,100"/>
<path d="M422.8,139.4V235.2H434.8V139.4" fill="none" stroke="#d63a3a" stroke-width="1.65" stroke-dasharray="4.6,3.6" stroke-linejoin="round"/>
<path d="M434.8,139.4H422.8" fill="none" stroke="#d63a3a" stroke-width="1.65" stroke-dasharray="0,2.04,4.8,100"/>
<path d="M540.5,139.4V235.2H552.9V139.4" fill="none" stroke="#d63a3a" stroke-width="1.65" stroke-dasharray="4.6,3.6" stroke-linejoin="round"/>
<path d="M552.9,139.4H540.5" fill="none" stroke="#d63a3a" stroke-width="1.65" stroke-dasharray="0,2.11,4.96,100"/>
<line x1="257.5" y1="70" x2="290.72" y2="27.11" stroke="#2a2a2a" stroke-width="0.5"/>
<path d="M290.72,27.11L290.12,29.18L288.86,28.2Z" fill="#2a2a2a"/>
<line x1="257.5" y1="70" x2="289.73" y2="46.06" stroke="#2a2a2a" stroke-width="0.5"/>
<path d="M289.73,46.06L288.6,47.9L287.64,46.61Z" fill="#2a2a2a"/>
<line x1="257.5" y1="70" x2="288.8" y2="63.91" stroke="#2a2a2a" stroke-width="0.5"/>
<path d="M288.8,63.91L286.99,65.08L286.68,63.51Z" fill="#2a2a2a"/>
<line x1="257.5" y1="70" x2="289" y2="81.15" stroke="#2a2a2a" stroke-width="0.5"/>
<path d="M289,81.15L286.85,81.23L287.38,79.72Z" fill="#2a2a2a"/>
<line x1="257.5" y1="70" x2="290.04" y2="99.36" stroke="#2a2a2a" stroke-width="0.5"/>
<path d="M290.04,99.36L288.02,98.61L289.09,97.42Z" fill="#2a2a2a"/>
<line x1="257.5" y1="70" x2="290.95" y2="118.52" stroke="#2a2a2a" stroke-width="0.5"/>
<path d="M290.95,118.52L289.15,117.33L290.47,116.42Z" fill="#2a2a2a"/>
<line x1="257.5" y1="70" x2="291.57" y2="138.11" stroke="#2a2a2a" stroke-width="0.5"/>
<path d="M291.57,138.11L289.96,136.68L291.39,135.96Z" fill="#2a2a2a"/>
<line x1="257.5" y1="70" x2="292" y2="157.88" stroke="#2a2a2a" stroke-width="0.5"/>
<path d="M292,157.88L290.52,156.31L292.01,155.73Z" fill="#2a2a2a"/>
<line x1="257.5" y1="70" x2="292.3" y2="177.73" stroke="#2a2a2a" stroke-width="0.5"/>
<path d="M292.3,177.73L290.93,176.07L292.45,175.58Z" fill="#2a2a2a"/>
<line x1="257.5" y1="70" x2="292.52" y2="197.63" stroke="#2a2a2a" stroke-width="0.5"/>
<path d="M292.52,197.63L291.22,195.91L292.77,195.48Z" fill="#2a2a2a"/>
<line x1="257.5" y1="70" x2="292.69" y2="217.54" stroke="#2a2a2a" stroke-width="0.5"/>
<path d="M292.69,217.54L291.45,215.78L293.01,215.41Z" fill="#2a2a2a"/>
<line x1="257.5" y1="70" x2="292.83" y2="237.47" stroke="#2a2a2a" stroke-width="0.5"/>
<path d="M292.83,237.47L291.63,235.68L293.2,235.35Z" fill="#2a2a2a"/>
<line x1="256" y1="203.2" x2="292.83" y2="28.09" stroke="#2a2a2a" stroke-width="0.5"/>
<path d="M292.83,28.09L293.2,30.21L291.64,29.88Z" fill="#2a2a2a"/>
<line x1="256" y1="203.2" x2="292.7" y2="48.02" stroke="#2a2a2a" stroke-width="0.5"/>
<path d="M292.7,48.02L293.02,50.15L291.46,49.78Z" fill="#2a2a2a"/>
<line x1="256" y1="203.2" x2="292.54" y2="67.94" stroke="#2a2a2a" stroke-width="0.5"/>
<path d="M292.54,67.94L292.79,70.08L291.25,69.66Z" fill="#2a2a2a"/>
<line x1="256" y1="203.2" x2="292.34" y2="87.84" stroke="#2a2a2a" stroke-width="0.5"/>
<path d="M292.34,87.84L292.5,89.99L290.97,89.51Z" fill="#2a2a2a"/>
<line x1="256" y1="203.2" x2="292.06" y2="107.7" stroke="#2a2a2a" stroke-width="0.5"/>
<path d="M292.06,107.7L292.1,109.86L290.61,109.29Z" fill="#2a2a2a"/>
<line x1="256" y1="203.2" x2="291.68" y2="127.5" stroke="#2a2a2a" stroke-width="0.5"/>
<path d="M291.68,127.5L291.55,129.65L290.11,128.97Z" fill="#2a2a2a"/>
<line x1="256" y1="203.2" x2="291.14" y2="147.17" stroke="#2a2a2a" stroke-width="0.5"/>
<path d="M291.14,147.17L290.75,149.28L289.4,148.43Z" fill="#2a2a2a"/>
<line x1="256" y1="203.2" x2="290.35" y2="166.52" stroke="#2a2a2a" stroke-width="0.5"/>
<path d="M290.35,166.52L289.56,168.52L288.4,167.43Z" fill="#2a2a2a"/>
<line x1="256" y1="203.2" x2="289.33" y2="185.16" stroke="#2a2a2a" stroke-width="0.5"/>
<path d="M289.33,185.16L287.95,186.81L287.19,185.4Z" fill="#2a2a2a"/>
<line x1="256" y1="203.2" x2="288.7" y2="202.72" stroke="#2a2a2a" stroke-width="0.5"/>
<path d="M288.7,202.72L286.71,203.55L286.69,201.95Z" fill="#2a2a2a"/>
<line x1="256" y1="203.2" x2="289.27" y2="220.23" stroke="#2a2a2a" stroke-width="0.5"/>
<path d="M289.27,220.23L287.13,220.03L287.86,218.61Z" fill="#2a2a2a"/>
<line x1="256" y1="203.2" x2="290.29" y2="238.81" stroke="#2a2a2a" stroke-width="0.5"/>
<path d="M290.29,238.81L288.33,237.93L289.48,236.82Z" fill="#2a2a2a"/>
<ellipse cx="293.9" cy="23" rx="5.1" ry="5.2" fill="#bff2bb" stroke="#70c070" stroke-width="0.5"/>
<text x="288.6" y="24.1" font-size="3.1" fill="#1a1a1a">YBL017C</text>
<ellipse cx="293.9" cy="42.96" rx="5.1" ry="5.2" fill="#bff2bb" stroke="#70c070" stroke-width="0.5"/>
<text x="288.6" y="44.06" font-size="3.1" fill="#1a1a1a">YBL014W</text>
<ellipse cx="293.9" cy="62.92" rx="5.1" ry="5.2" fill="#bff2bb" stroke="#70c070" stroke-width="0.5"/>
<text x="288.6" y="64.02" font-size="3.1" fill="#1a1a1a">YCL008C</text>
<ellipse cx="293.9" cy="82.88" rx="5.1" ry="5.2" fill="#bff2bb" stroke="#70c070" stroke-width="0.5"/>
<text x="288.6" y="83.98" font-size="3.1" fill="#1a1a1a">YCR017C</text>
<ellipse cx="293.9" cy="102.84" rx="5.1" ry="5.2" fill="#bff2bb" stroke="#70c070" stroke-width="0.5"/>
<text x="288.6" y="103.94" font-size="3.1" fill="#1a1a1a">YHL067W</text>
<ellipse cx="293.9" cy="122.8" rx="5.1" ry="5.2" fill="#bff2bb" stroke="#70c070" stroke-width="0.5"/>
<text x="288.6" y="123.9" font-size="3.1" fill="#1a1a1a">YHL279W</text>
<ellipse cx="293.9" cy="142.76" rx="5.1" ry="5.2" fill="#bff2bb" stroke="#70c070" stroke-width="0.5"/>
<text x="288.6" y="143.86" font-size="3.1" fill="#1a1a1a">YLR095W</text>
<ellipse cx="293.9" cy="162.72" rx="5.1" ry="5.2" fill="#bff2bb" stroke="#70c070" stroke-width="0.5"/>
<text x="288.6" y="163.82" font-size="3.1" fill="#1a1a1a">YML055W</text>
<ellipse cx="293.9" cy="182.68" rx="5.1" ry="5.2" fill="#bff2bb" stroke="#70c070" stroke-width="0.5"/>
<text x="288.6" y="183.78" font-size="3.1" fill="#1a1a1a">YOR088W</text>
<ellipse cx="293.9" cy="202.64" rx="5.1" ry="5.2" fill="#bff2bb" stroke="#70c070" stroke-width="0.5"/>
<text x="288.6" y="203.74" font-size="3.1" fill="#1a1a1a">YOR261W</text>
<ellipse cx="293.9" cy="222.6" rx="5.1" ry="5.2" fill="#bff2bb" stroke="#70c070" stroke-width="0.5"/>
<text x="288.6" y="223.7" font-size="3.1" fill="#1a1a1a">YLR087C</text>
<ellipse cx="293.9" cy="242.56" rx="5.1" ry="5.2" fill="#bff2bb" stroke="#70c070" stroke-width="0.5"/>
<text x="288.6" y="243.66" font-size="3.1" fill="#1a1a1a">YLR069C</text>
<rect x="246.3" y="64.4" width="22.4" height="11.2" fill="#ffff00" stroke="#a0a000" stroke-width="0.6"/>
<text class="sr" x="257.4" y="72.2" font-size="6.2" text-anchor="middle" fill="#000">DIG1</text>
<rect x="247.5" y="197.5" width="25.6" height="10.9" fill="#ffff00" stroke="#a0a000" stroke-width="0.6"/>
<text class="sr" x="260.3" y="206.0" font-size="6.2" text-anchor="middle" fill="#000">STE12</text>
<line x1="607.7" y1="45.35" x2="663.65" y2="103.27" stroke="#111" stroke-width="0.9"/>
<path d="M663.65,103.27L659.45,100.94L661.46,98.99Z" fill="#111"/>
<line x1="607.7" y1="45.35" x2="665.51" y2="145.7" stroke="#111" stroke-width="0.9"/>
<path d="M665.51,145.7L662,142.41L664.43,141.01Z" fill="#111"/>
<line x1="607.25" y1="82.15" x2="661.22" y2="106.72" stroke="#111" stroke-width="0.9"/>
<path d="M661.22,106.72L656.45,106.09L657.61,103.54Z" fill="#111"/>
<line x1="607.25" y1="82.15" x2="663.74" y2="146.96" stroke="#111" stroke-width="0.9"/>
<path d="M663.74,146.96L659.66,144.41L661.77,142.57Z" fill="#111"/>
<line x1="606.75" y1="116.65" x2="660.24" y2="112.31" stroke="#111" stroke-width="0.9"/>
<path d="M660.24,112.31L655.77,114.08L655.54,111.29Z" fill="#111"/>
<line x1="606.75" y1="116.65" x2="661.51" y2="149.62" stroke="#111" stroke-width="0.9"/>
<path d="M661.51,149.62L656.84,148.45L658.29,146.05Z" fill="#111"/>
<line x1="606.2" y1="151.35" x2="661.86" y2="117.3" stroke="#111" stroke-width="0.9"/>
<path d="M661.86,117.3L658.67,120.89L657.21,118.5Z" fill="#111"/>
<line x1="606.2" y1="151.35" x2="659.92" y2="154.7" stroke="#111" stroke-width="0.9"/>
<path d="M659.92,154.7L655.24,155.81L655.42,153.02Z" fill="#111"/>
<line x1="606.35" y1="186.25" x2="664.08" y2="119.92" stroke="#111" stroke-width="0.9"/>
<path d="M664.08,119.92L662.12,124.31L660.01,122.47Z" fill="#111"/>
<line x1="606.35" y1="186.25" x2="660.99" y2="160.22" stroke="#111" stroke-width="0.9"/>
<path d="M660.99,160.22L657.44,163.46L656.23,160.93Z" fill="#111"/>
<line x1="606.35" y1="223.35" x2="665.82" y2="121.17" stroke="#111" stroke-width="0.9"/>
<path d="M665.82,121.17L664.71,125.85L662.29,124.44Z" fill="#111"/>
<line x1="606.35" y1="223.35" x2="663.37" y2="163.51" stroke="#111" stroke-width="0.9"/>
<path d="M663.37,163.51L661.21,167.8L659.19,165.87Z" fill="#111"/>
<circle cx="671.5" cy="111.4" r="9.7" fill="#c2f4c2" stroke="#5aa85a" stroke-width="0.8"/>
<text x="661.3" y="114.2" font-size="7.2" fill="#000" textLength="22.3" lengthAdjust="spacingAndGlyphs" stroke="#000" stroke-width="0.12">FL022C</text>
<circle cx="671.1" cy="155.4" r="9.6" fill="#c2f4c2" stroke="#5aa85a" stroke-width="0.8"/>
<text x="661.3" y="158.2" font-size="7.2" fill="#000" textLength="23.6" lengthAdjust="spacingAndGlyphs" stroke="#000" stroke-width="0.12">FL021W</text>
<rect x="589.3" y="39.3" width="29.2" height="13.3" fill="#ffff00" stroke="#b8b800" stroke-width="0.7"/>
<text x="604.5" y="48.7" font-size="7.5" text-anchor="middle" fill="#000" textLength="17.1" lengthAdjust="spacingAndGlyphs" stroke="#000" stroke-width="0.12">ACE2</text>
<rect x="588.5" y="76.1" width="29.9" height="13.3" fill="#ffff00" stroke="#b8b800" stroke-width="0.7"/>
<text x="603.6" y="85.5" font-size="7.5" text-anchor="middle" fill="#000" textLength="16.9" lengthAdjust="spacingAndGlyphs" stroke="#000" stroke-width="0.12">FKH2</text>
<rect x="588.3" y="110.6" width="29.3" height="13.3" fill="#ffff00" stroke="#b8b800" stroke-width="0.7"/>
<text x="602.8" y="120" font-size="7.5" text-anchor="middle" fill="#000" textLength="15.5" lengthAdjust="spacingAndGlyphs" stroke="#000" stroke-width="0.12">KSS1</text>
<rect x="587.9" y="145.3" width="29" height="13.3" fill="#ffff00" stroke="#b8b800" stroke-width="0.7"/>
<text x="602.4" y="154.7" font-size="7.5" text-anchor="middle" fill="#000" textLength="16.7" lengthAdjust="spacingAndGlyphs" stroke="#000" stroke-width="0.12">RAP1</text>
<rect x="587.5" y="180.2" width="30.1" height="13.3" fill="#ffff00" stroke="#b8b800" stroke-width="0.7"/>
<text x="602.9" y="189.6" font-size="7.5" text-anchor="middle" fill="#000" textLength="17.9" lengthAdjust="spacingAndGlyphs" stroke="#000" stroke-width="0.12">SWI5</text>
<rect x="587.5" y="217.3" width="30.1" height="13.3" fill="#ffff00" stroke="#b8b800" stroke-width="0.7"/>
<text x="603.8" y="226.7" font-size="7.5" text-anchor="middle" fill="#000" textLength="21.5" lengthAdjust="spacingAndGlyphs" stroke="#000" stroke-width="0.12">UME6</text>
</svg></body></html>
